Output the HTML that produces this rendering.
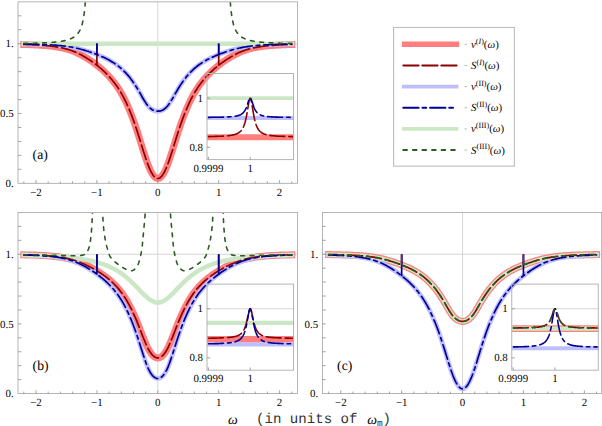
<!DOCTYPE html>
<html><head><meta charset="utf-8"><title>spectra</title>
<style>html,body{margin:0;padding:0;background:#fff;}body{width:602px;height:426px;overflow:hidden;font-family:"Liberation Serif",serif;}svg{display:block;}</style>
</head><body>
<svg width="602" height="426" viewBox="0 0 602 426" text-rendering="geometricPrecision">
<rect width="602" height="426" fill="#fff"/>
<path d="M157.80,1.85V183.30" stroke="#d6d6d6" stroke-width="1" fill="none"/>
<path d="M18.00,43.72H297.50" stroke="#d6d6d6" stroke-width="1" fill="none"/>
<clipPath id="cp0"><rect x="18.00" y="2.35" width="279.50" height="180.95"/></clipPath>
<g clip-path="url(#cp0)">
<path d="M23.8,44.5L24.8,44.5L25.8,44.5L26.8,44.6L27.8,44.6L28.8,44.6L29.8,44.7L30.8,44.7L31.8,44.7L32.9,44.8L33.9,44.8L34.9,44.9L35.9,44.9L36.9,45.0L37.9,45.0L38.9,45.1L39.9,45.2L40.9,45.2L41.9,45.3L42.9,45.4L43.9,45.4L44.9,45.5L45.9,45.6L46.9,45.7L47.9,45.8L48.9,45.9L49.9,46.0L50.9,46.1L51.9,46.2L52.9,46.3L53.9,46.5L54.9,46.6L55.9,46.8L56.9,46.9L57.9,47.1L58.9,47.3L59.9,47.5L61.0,47.6L62.0,47.9L63.0,48.1L64.0,48.3L65.0,48.6L66.0,48.8L67.0,49.1L68.0,49.4L69.0,49.7L70.0,50.0L71.0,50.4L72.0,50.7L73.0,51.1L74.0,51.5L75.0,51.9L76.0,52.3L77.0,52.8L78.0,53.3L79.0,53.8L80.0,54.3L81.0,54.8L82.0,55.3L83.0,55.9L84.0,56.5L85.0,57.1L86.0,57.7L87.0,58.3L88.1,59.0L89.1,59.6L90.1,60.3L91.1,61.0L92.1,61.7L93.1,62.4L94.1,63.1L95.1,63.9L96.1,64.7L97.1,65.4L98.1,66.2L99.1,67.1L100.1,67.9L101.1,68.7L102.1,69.6L103.1,70.5L104.1,71.4L105.1,72.4L106.1,73.4L107.1,74.4L108.1,75.4L109.1,76.5L110.1,77.6L111.1,78.7L112.1,79.9L113.1,81.2L114.1,82.4L115.1,83.8L116.2,85.2L117.2,86.6L118.2,88.1L119.2,89.7L120.2,91.3L121.2,93.0L122.2,94.8L123.2,96.6L124.2,98.5L125.2,100.5L126.2,102.6L127.2,104.8L128.2,107.0L129.2,109.4L130.2,111.8L131.2,114.3L132.2,116.9L133.2,119.6L134.2,122.4L135.2,125.3L136.2,128.3L137.2,131.3L138.2,134.4L139.2,137.6L140.2,140.8L141.2,144.1L142.2,147.3L143.2,150.6L144.3,153.7L145.3,156.9L146.3,159.9L147.3,162.7L148.3,165.4L149.3,167.9L150.3,170.2L151.3,172.2L152.3,173.9L153.3,175.4L154.3,176.7L155.3,177.6L156.3,178.2L157.3,178.5L158.3,178.5L159.3,178.2L160.3,177.6L161.3,176.7L162.3,175.4L163.3,173.9L164.3,172.2L165.3,170.2L166.3,167.9L167.3,165.4L168.3,162.7L169.3,159.9L170.3,156.9L171.3,153.7L172.4,150.6L173.4,147.3L174.4,144.1L175.4,140.8L176.4,137.6L177.4,134.4L178.4,131.3L179.4,128.3L180.4,125.3L181.4,122.4L182.4,119.6L183.4,116.9L184.4,114.3L185.4,111.8L186.4,109.4L187.4,107.0L188.4,104.8L189.4,102.6L190.4,100.5L191.4,98.5L192.4,96.6L193.4,94.8L194.4,93.0L195.4,91.3L196.4,89.7L197.4,88.1L198.4,86.6L199.4,85.2L200.5,83.8L201.5,82.4L202.5,81.2L203.5,79.9L204.5,78.7L205.5,77.6L206.5,76.5L207.5,75.4L208.5,74.4L209.5,73.4L210.5,72.4L211.5,71.4L212.5,70.5L213.5,69.6L214.5,68.7L215.5,67.9L216.5,67.1L217.5,66.2L218.5,65.4L219.5,64.7L220.5,63.9L221.5,63.1L222.5,62.4L223.5,61.7L224.5,61.0L225.5,60.3L226.5,59.6L227.5,59.0L228.6,58.3L229.6,57.7L230.6,57.1L231.6,56.5L232.6,55.9L233.6,55.3L234.6,54.8L235.6,54.3L236.6,53.8L237.6,53.3L238.6,52.8L239.6,52.3L240.6,51.9L241.6,51.5L242.6,51.1L243.6,50.7L244.6,50.4L245.6,50.0L246.6,49.7L247.6,49.4L248.6,49.1L249.6,48.8L250.6,48.6L251.6,48.3L252.6,48.1L253.6,47.9L254.6,47.6L255.7,47.5L256.7,47.3L257.7,47.1L258.7,46.9L259.7,46.8L260.7,46.6L261.7,46.5L262.7,46.3L263.7,46.2L264.7,46.1L265.7,46.0L266.7,45.9L267.7,45.8L268.7,45.7L269.7,45.6L270.7,45.5L271.7,45.4L272.7,45.4L273.7,45.3L274.7,45.2L275.7,45.2L276.7,45.1L277.7,45.0L278.7,45.0L279.7,44.9L280.7,44.9L281.7,44.8L282.7,44.8L283.8,44.7L284.8,44.7L285.8,44.7L286.8,44.6L287.8,44.6L288.8,44.6L289.8,44.5L290.8,44.5L291.8,44.5" fill="none" stroke="#ff7f7f" stroke-width="7.00" stroke-linecap="square" stroke-linejoin="round"/>
<path d="M23.8,44.1L24.8,44.1L25.8,44.1L26.8,44.1L27.8,44.2L28.8,44.2L29.8,44.2L30.8,44.2L31.8,44.2L32.9,44.3L33.9,44.3L34.9,44.3L35.9,44.3L36.9,44.4L37.9,44.4L38.9,44.4L39.9,44.4L40.9,44.5L41.9,44.5L42.9,44.5L43.9,44.6L44.9,44.6L45.9,44.7L46.9,44.7L47.9,44.8L48.9,44.8L49.9,44.9L50.9,44.9L51.9,45.0L52.9,45.0L53.9,45.1L54.9,45.2L55.9,45.2L56.9,45.3L57.9,45.4L58.9,45.5L59.9,45.6L61.0,45.7L62.0,45.8L63.0,45.9L64.0,46.0L65.0,46.1L66.0,46.3L67.0,46.4L68.0,46.6L69.0,46.7L70.0,46.9L71.0,47.0L72.0,47.2L73.0,47.4L74.0,47.6L75.0,47.8L76.0,48.0L77.0,48.3L78.0,48.5L79.0,48.7L80.0,49.0L81.0,49.3L82.0,49.5L83.0,49.8L84.0,50.1L85.0,50.4L86.0,50.7L87.0,51.0L88.1,51.3L89.1,51.7L90.1,52.0L91.1,52.4L92.1,52.7L93.1,53.1L94.1,53.4L95.1,53.8L96.1,54.2L97.1,54.6L98.1,55.0L99.1,55.4L100.1,55.8L101.1,56.3L102.1,56.7L103.1,57.1L104.1,57.6L105.1,58.1L106.1,58.6L107.1,59.1L108.1,59.6L109.1,60.1L110.1,60.7L111.1,61.3L112.1,61.9L113.1,62.5L114.1,63.1L115.1,63.8L116.2,64.5L117.2,65.2L118.2,66.0L119.2,66.8L120.2,67.6L121.2,68.5L122.2,69.4L123.2,70.3L124.2,71.3L125.2,72.3L126.2,73.4L127.2,74.5L128.2,75.6L129.2,76.8L130.2,78.1L131.2,79.4L132.2,80.7L133.2,82.2L134.2,83.6L135.2,85.1L136.2,86.7L137.2,88.3L138.2,90.0L139.2,91.7L140.2,93.4L141.2,95.2L142.2,97.0L143.2,98.8L144.3,100.5L145.3,102.1L146.3,103.7L147.3,105.1L148.3,106.3L149.3,107.4L150.3,108.3L151.3,109.0L152.3,109.7L153.3,110.2L154.3,110.6L155.3,110.9L156.3,111.1L157.3,111.2L158.3,111.2L159.3,111.1L160.3,110.9L161.3,110.6L162.3,110.2L163.3,109.7L164.3,109.0L165.3,108.3L166.3,107.4L167.3,106.3L168.3,105.1L169.3,103.7L170.3,102.1L171.3,100.5L172.4,98.8L173.4,97.0L174.4,95.2L175.4,93.4L176.4,91.7L177.4,90.0L178.4,88.3L179.4,86.7L180.4,85.1L181.4,83.6L182.4,82.2L183.4,80.7L184.4,79.4L185.4,78.1L186.4,76.8L187.4,75.6L188.4,74.5L189.4,73.4L190.4,72.3L191.4,71.3L192.4,70.3L193.4,69.4L194.4,68.5L195.4,67.6L196.4,66.8L197.4,66.0L198.4,65.2L199.4,64.5L200.5,63.8L201.5,63.1L202.5,62.5L203.5,61.9L204.5,61.3L205.5,60.7L206.5,60.1L207.5,59.6L208.5,59.1L209.5,58.6L210.5,58.1L211.5,57.6L212.5,57.1L213.5,56.7L214.5,56.3L215.5,55.8L216.5,55.4L217.5,55.0L218.5,54.6L219.5,54.2L220.5,53.8L221.5,53.4L222.5,53.1L223.5,52.7L224.5,52.4L225.5,52.0L226.5,51.7L227.5,51.3L228.6,51.0L229.6,50.7L230.6,50.4L231.6,50.1L232.6,49.8L233.6,49.5L234.6,49.3L235.6,49.0L236.6,48.7L237.6,48.5L238.6,48.3L239.6,48.0L240.6,47.8L241.6,47.6L242.6,47.4L243.6,47.2L244.6,47.0L245.6,46.9L246.6,46.7L247.6,46.6L248.6,46.4L249.6,46.3L250.6,46.1L251.6,46.0L252.6,45.9L253.6,45.8L254.6,45.7L255.7,45.6L256.7,45.5L257.7,45.4L258.7,45.3L259.7,45.2L260.7,45.2L261.7,45.1L262.7,45.0L263.7,45.0L264.7,44.9L265.7,44.9L266.7,44.8L267.7,44.8L268.7,44.7L269.7,44.7L270.7,44.6L271.7,44.6L272.7,44.5L273.7,44.5L274.7,44.5L275.7,44.4L276.7,44.4L277.7,44.4L278.7,44.4L279.7,44.3L280.7,44.3L281.7,44.3L282.7,44.3L283.8,44.2L284.8,44.2L285.8,44.2L286.8,44.2L287.8,44.2L288.8,44.1L289.8,44.1L290.8,44.1L291.8,44.1" fill="none" stroke="#bebeff" stroke-width="4.70" stroke-linecap="square" stroke-linejoin="round"/>
<path d="M23.8,43.7L24.8,43.7L25.8,43.7L26.8,43.7L27.8,43.7L28.8,43.7L29.8,43.7L30.8,43.7L31.8,43.7L32.9,43.7L33.9,43.7L34.9,43.7L35.9,43.7L36.9,43.7L37.9,43.7L38.9,43.7L39.9,43.7L40.9,43.7L41.9,43.7L42.9,43.7L43.9,43.7L44.9,43.7L45.9,43.7L46.9,43.7L47.9,43.7L48.9,43.7L49.9,43.7L50.9,43.7L51.9,43.7L52.9,43.7L53.9,43.7L54.9,43.7L55.9,43.7L56.9,43.7L57.9,43.7L58.9,43.7L59.9,43.7L61.0,43.7L62.0,43.7L63.0,43.7L64.0,43.7L65.0,43.7L66.0,43.7L67.0,43.7L68.0,43.7L69.0,43.7L70.0,43.7L71.0,43.7L72.0,43.7L73.0,43.7L74.0,43.7L75.0,43.7L76.0,43.7L77.0,43.7L78.0,43.7L79.0,43.7L80.0,43.7L81.0,43.7L82.0,43.7L83.0,43.7L84.0,43.7L85.0,43.7L86.0,43.7L87.0,43.7L88.1,43.7L89.1,43.7L90.1,43.7L91.1,43.7L92.1,43.7L93.1,43.7L94.1,43.7L95.1,43.7L96.1,43.7L97.1,43.7L98.1,43.7L99.1,43.7L100.1,43.7L101.1,43.7L102.1,43.7L103.1,43.7L104.1,43.7L105.1,43.7L106.1,43.7L107.1,43.7L108.1,43.7L109.1,43.7L110.1,43.7L111.1,43.7L112.1,43.7L113.1,43.7L114.1,43.7L115.1,43.7L116.2,43.7L117.2,43.7L118.2,43.7L119.2,43.7L120.2,43.7L121.2,43.7L122.2,43.7L123.2,43.7L124.2,43.7L125.2,43.7L126.2,43.7L127.2,43.7L128.2,43.7L129.2,43.7L130.2,43.7L131.2,43.7L132.2,43.7L133.2,43.7L134.2,43.7L135.2,43.7L136.2,43.7L137.2,43.7L138.2,43.7L139.2,43.7L140.2,43.7L141.2,43.7L142.2,43.7L143.2,43.7L144.3,43.7L145.3,43.7L146.3,43.7L147.3,43.7L148.3,43.7L149.3,43.7L150.3,43.7L151.3,43.7L152.3,43.7L153.3,43.7L154.3,43.7L155.3,43.7L156.3,43.7L157.3,43.7L158.3,43.7L159.3,43.7L160.3,43.7L161.3,43.7L162.3,43.7L163.3,43.7L164.3,43.7L165.3,43.7L166.3,43.7L167.3,43.7L168.3,43.7L169.3,43.7L170.3,43.7L171.3,43.7L172.4,43.7L173.4,43.7L174.4,43.7L175.4,43.7L176.4,43.7L177.4,43.7L178.4,43.7L179.4,43.7L180.4,43.7L181.4,43.7L182.4,43.7L183.4,43.7L184.4,43.7L185.4,43.7L186.4,43.7L187.4,43.7L188.4,43.7L189.4,43.7L190.4,43.7L191.4,43.7L192.4,43.7L193.4,43.7L194.4,43.7L195.4,43.7L196.4,43.7L197.4,43.7L198.4,43.7L199.4,43.7L200.5,43.7L201.5,43.7L202.5,43.7L203.5,43.7L204.5,43.7L205.5,43.7L206.5,43.7L207.5,43.7L208.5,43.7L209.5,43.7L210.5,43.7L211.5,43.7L212.5,43.7L213.5,43.7L214.5,43.7L215.5,43.7L216.5,43.7L217.5,43.7L218.5,43.7L219.5,43.7L220.5,43.7L221.5,43.7L222.5,43.7L223.5,43.7L224.5,43.7L225.5,43.7L226.5,43.7L227.5,43.7L228.6,43.7L229.6,43.7L230.6,43.7L231.6,43.7L232.6,43.7L233.6,43.7L234.6,43.7L235.6,43.7L236.6,43.7L237.6,43.7L238.6,43.7L239.6,43.7L240.6,43.7L241.6,43.7L242.6,43.7L243.6,43.7L244.6,43.7L245.6,43.7L246.6,43.7L247.6,43.7L248.6,43.7L249.6,43.7L250.6,43.7L251.6,43.7L252.6,43.7L253.6,43.7L254.6,43.7L255.7,43.7L256.7,43.7L257.7,43.7L258.7,43.7L259.7,43.7L260.7,43.7L261.7,43.7L262.7,43.7L263.7,43.7L264.7,43.7L265.7,43.7L266.7,43.7L267.7,43.7L268.7,43.7L269.7,43.7L270.7,43.7L271.7,43.7L272.7,43.7L273.7,43.7L274.7,43.7L275.7,43.7L276.7,43.7L277.7,43.7L278.7,43.7L279.7,43.7L280.7,43.7L281.7,43.7L282.7,43.7L283.8,43.7L284.8,43.7L285.8,43.7L286.8,43.7L287.8,43.7L288.8,43.7L289.8,43.7L290.8,43.7L291.8,43.7" fill="none" stroke="#cce7c6" stroke-width="4.50" stroke-linecap="square" stroke-linejoin="round"/>
<path d="M23.8,44.5L24.8,44.5L25.8,44.5L26.8,44.6L27.8,44.6L28.8,44.6L29.8,44.7L30.8,44.7L31.8,44.7L32.9,44.8L33.9,44.8L34.9,44.9L35.9,44.9L36.9,45.0L37.9,45.0L38.9,45.1L39.9,45.2L40.9,45.2L41.9,45.3L42.9,45.4L43.9,45.4L44.9,45.5L45.9,45.6L46.9,45.7L47.9,45.8L48.9,45.9L49.9,46.0L50.9,46.1L51.9,46.2L52.9,46.3L53.9,46.5L54.9,46.6L55.9,46.8L56.9,46.9L57.9,47.1L58.9,47.3L59.9,47.5L61.0,47.6L62.0,47.9L63.0,48.1L64.0,48.3L65.0,48.6L66.0,48.8L67.0,49.1L68.0,49.4L69.0,49.7L70.0,50.0L71.0,50.4L72.0,50.7L73.0,51.1L74.0,51.5L75.0,51.9L76.0,52.3L77.0,52.8L78.0,53.3L79.0,53.8L80.0,54.3L81.0,54.8L82.0,55.3L83.0,55.9L84.0,56.5L85.0,57.1L86.0,57.7L87.0,58.3L88.1,59.0L89.1,59.6L90.1,60.3L91.1,61.0L92.1,61.7L93.1,62.4L94.1,63.1L95.1,63.9L96.1,64.7L97.1,65.4L98.1,66.2L99.1,67.1L100.1,67.9L101.1,68.7L102.1,69.6L103.1,70.5L104.1,71.4L105.1,72.4L106.1,73.4L107.1,74.4L108.1,75.4L109.1,76.5L110.1,77.6L111.1,78.7L112.1,79.9L113.1,81.2L114.1,82.4L115.1,83.8L116.2,85.2L117.2,86.6L118.2,88.1L119.2,89.7L120.2,91.3L121.2,93.0L122.2,94.8L123.2,96.6L124.2,98.5L125.2,100.5L126.2,102.6L127.2,104.8L128.2,107.0L129.2,109.4L130.2,111.8L131.2,114.3L132.2,116.9L133.2,119.6L134.2,122.4L135.2,125.3L136.2,128.3L137.2,131.3L138.2,134.4L139.2,137.6L140.2,140.8L141.2,144.1L142.2,147.3L143.2,150.6L144.3,153.7L145.3,156.9L146.3,159.9L147.3,162.7L148.3,165.4L149.3,167.9L150.3,170.2L151.3,172.2L152.3,173.9L153.3,175.4L154.3,176.7L155.3,177.6L156.3,178.2L157.3,178.5L158.3,178.5L159.3,178.2L160.3,177.6L161.3,176.7L162.3,175.4L163.3,173.9L164.3,172.2L165.3,170.2L166.3,167.9L167.3,165.4L168.3,162.7L169.3,159.9L170.3,156.9L171.3,153.7L172.4,150.6L173.4,147.3L174.4,144.1L175.4,140.8L176.4,137.6L177.4,134.4L178.4,131.3L179.4,128.3L180.4,125.3L181.4,122.4L182.4,119.6L183.4,116.9L184.4,114.3L185.4,111.8L186.4,109.4L187.4,107.0L188.4,104.8L189.4,102.6L190.4,100.5L191.4,98.5L192.4,96.6L193.4,94.8L194.4,93.0L195.4,91.3L196.4,89.7L197.4,88.1L198.4,86.6L199.4,85.2L200.5,83.8L201.5,82.4L202.5,81.2L203.5,79.9L204.5,78.7L205.5,77.6L206.5,76.5L207.5,75.4L208.5,74.4L209.5,73.4L210.5,72.4L211.5,71.4L212.5,70.5L213.5,69.6L214.5,68.7L215.5,67.9L216.5,67.1L217.5,66.2L218.5,65.4L219.5,64.7L220.5,63.9L221.5,63.1L222.5,62.4L223.5,61.7L224.5,61.0L225.5,60.3L226.5,59.6L227.5,59.0L228.6,58.3L229.6,57.7L230.6,57.1L231.6,56.5L232.6,55.9L233.6,55.3L234.6,54.8L235.6,54.3L236.6,53.8L237.6,53.3L238.6,52.8L239.6,52.3L240.6,51.9L241.6,51.5L242.6,51.1L243.6,50.7L244.6,50.4L245.6,50.0L246.6,49.7L247.6,49.4L248.6,49.1L249.6,48.8L250.6,48.6L251.6,48.3L252.6,48.1L253.6,47.9L254.6,47.6L255.7,47.5L256.7,47.3L257.7,47.1L258.7,46.9L259.7,46.8L260.7,46.6L261.7,46.5L262.7,46.3L263.7,46.2L264.7,46.1L265.7,46.0L266.7,45.9L267.7,45.8L268.7,45.7L269.7,45.6L270.7,45.5L271.7,45.4L272.7,45.4L273.7,45.3L274.7,45.2L275.7,45.2L276.7,45.1L277.7,45.0L278.7,45.0L279.7,44.9L280.7,44.9L281.7,44.8L282.7,44.8L283.8,44.7L284.8,44.7L285.8,44.7L286.8,44.6L287.8,44.6L288.8,44.6L289.8,44.5L290.8,44.5L291.8,44.5" fill="none" stroke="#8b0000" stroke-width="1.70" stroke-dasharray="15 4" stroke-dashoffset="0.0" stroke-linecap="round" stroke-linejoin="round"/>
<path d="M96.90,65.79V43.62" fill="none" stroke="#8b0000" stroke-width="1.70" stroke-linecap="butt"/>
<path d="M218.70,65.79V43.62" fill="none" stroke="#8b0000" stroke-width="1.70" stroke-linecap="butt"/>
<path d="M23.8,44.1L24.8,44.1L25.8,44.1L26.8,44.1L27.8,44.2L28.8,44.2L29.8,44.2L30.8,44.2L31.8,44.2L32.9,44.3L33.9,44.3L34.9,44.3L35.9,44.3L36.9,44.4L37.9,44.4L38.9,44.4L39.9,44.4L40.9,44.5L41.9,44.5L42.9,44.5L43.9,44.6L44.9,44.6L45.9,44.7L46.9,44.7L47.9,44.8L48.9,44.8L49.9,44.9L50.9,44.9L51.9,45.0L52.9,45.0L53.9,45.1L54.9,45.2L55.9,45.2L56.9,45.3L57.9,45.4L58.9,45.5L59.9,45.6L61.0,45.7L62.0,45.8L63.0,45.9L64.0,46.0L65.0,46.1L66.0,46.3L67.0,46.4L68.0,46.6L69.0,46.7L70.0,46.9L71.0,47.0L72.0,47.2L73.0,47.4L74.0,47.6L75.0,47.8L76.0,48.0L77.0,48.3L78.0,48.5L79.0,48.7L80.0,49.0L81.0,49.3L82.0,49.5L83.0,49.8L84.0,50.1L85.0,50.4L86.0,50.7L87.0,51.0L88.1,51.3L89.1,51.7L90.1,52.0L91.1,52.4L92.1,52.7L93.1,53.1L94.1,53.4L95.1,53.8L96.1,54.2L97.1,54.6L98.1,55.0L99.1,55.4L100.1,55.8L101.1,56.3L102.1,56.7L103.1,57.1L104.1,57.6L105.1,58.1L106.1,58.6L107.1,59.1L108.1,59.6L109.1,60.1L110.1,60.7L111.1,61.3L112.1,61.9L113.1,62.5L114.1,63.1L115.1,63.8L116.2,64.5L117.2,65.2L118.2,66.0L119.2,66.8L120.2,67.6L121.2,68.5L122.2,69.4L123.2,70.3L124.2,71.3L125.2,72.3L126.2,73.4L127.2,74.5L128.2,75.6L129.2,76.8L130.2,78.1L131.2,79.4L132.2,80.7L133.2,82.2L134.2,83.6L135.2,85.1L136.2,86.7L137.2,88.3L138.2,90.0L139.2,91.7L140.2,93.4L141.2,95.2L142.2,97.0L143.2,98.8L144.3,100.5L145.3,102.1L146.3,103.7L147.3,105.1L148.3,106.3L149.3,107.4L150.3,108.3L151.3,109.0L152.3,109.7L153.3,110.2L154.3,110.6L155.3,110.9L156.3,111.1L157.3,111.2L158.3,111.2L159.3,111.1L160.3,110.9L161.3,110.6L162.3,110.2L163.3,109.7L164.3,109.0L165.3,108.3L166.3,107.4L167.3,106.3L168.3,105.1L169.3,103.7L170.3,102.1L171.3,100.5L172.4,98.8L173.4,97.0L174.4,95.2L175.4,93.4L176.4,91.7L177.4,90.0L178.4,88.3L179.4,86.7L180.4,85.1L181.4,83.6L182.4,82.2L183.4,80.7L184.4,79.4L185.4,78.1L186.4,76.8L187.4,75.6L188.4,74.5L189.4,73.4L190.4,72.3L191.4,71.3L192.4,70.3L193.4,69.4L194.4,68.5L195.4,67.6L196.4,66.8L197.4,66.0L198.4,65.2L199.4,64.5L200.5,63.8L201.5,63.1L202.5,62.5L203.5,61.9L204.5,61.3L205.5,60.7L206.5,60.1L207.5,59.6L208.5,59.1L209.5,58.6L210.5,58.1L211.5,57.6L212.5,57.1L213.5,56.7L214.5,56.3L215.5,55.8L216.5,55.4L217.5,55.0L218.5,54.6L219.5,54.2L220.5,53.8L221.5,53.4L222.5,53.1L223.5,52.7L224.5,52.4L225.5,52.0L226.5,51.7L227.5,51.3L228.6,51.0L229.6,50.7L230.6,50.4L231.6,50.1L232.6,49.8L233.6,49.5L234.6,49.3L235.6,49.0L236.6,48.7L237.6,48.5L238.6,48.3L239.6,48.0L240.6,47.8L241.6,47.6L242.6,47.4L243.6,47.2L244.6,47.0L245.6,46.9L246.6,46.7L247.6,46.6L248.6,46.4L249.6,46.3L250.6,46.1L251.6,46.0L252.6,45.9L253.6,45.8L254.6,45.7L255.7,45.6L256.7,45.5L257.7,45.4L258.7,45.3L259.7,45.2L260.7,45.2L261.7,45.1L262.7,45.0L263.7,45.0L264.7,44.9L265.7,44.9L266.7,44.8L267.7,44.8L268.7,44.7L269.7,44.7L270.7,44.6L271.7,44.6L272.7,44.5L273.7,44.5L274.7,44.5L275.7,44.4L276.7,44.4L277.7,44.4L278.7,44.4L279.7,44.3L280.7,44.3L281.7,44.3L282.7,44.3L283.8,44.2L284.8,44.2L285.8,44.2L286.8,44.2L287.8,44.2L288.8,44.1L289.8,44.1L290.8,44.1L291.8,44.1" fill="none" stroke="#000094" stroke-width="1.70" stroke-dasharray="15 4 3.6 4" stroke-dashoffset="0.0" stroke-linecap="round" stroke-linejoin="round"/>
<path d="M96.90,55.03V43.62" fill="none" stroke="#000094" stroke-width="1.70" stroke-linecap="butt"/>
<path d="M218.70,55.03V43.62" fill="none" stroke="#000094" stroke-width="1.70" stroke-linecap="butt"/>
<path d="M23.8,43.4L24.1,43.4L24.5,43.4L24.8,43.4L25.1,43.4L25.4,43.4L25.7,43.4L26.1,43.4L26.4,43.4L26.7,43.4L27.0,43.4L27.4,43.3L27.7,43.3L28.0,43.3L28.3,43.3L28.6,43.3L29.0,43.3L29.3,43.3L29.6,43.3L29.9,43.3L30.2,43.3L30.6,43.3L30.9,43.3L31.2,43.3L31.5,43.3L31.9,43.3L32.2,43.2L32.5,43.2L32.8,43.2L33.1,43.2L33.5,43.2L33.8,43.2L34.1,43.2L34.4,43.2L34.7,43.2L35.1,43.2L35.4,43.2L35.7,43.2L36.0,43.1L36.4,43.1L36.7,43.1L37.0,43.1L37.3,43.1L37.6,43.1L38.0,43.1L38.3,43.1L38.6,43.1L38.9,43.1L39.2,43.0L39.6,43.0L39.9,43.0L40.2,43.0L40.5,43.0L40.9,43.0L41.2,43.0L41.5,43.0L41.8,43.0L42.1,42.9L42.5,42.9L42.8,42.9L43.1,42.9L43.4,42.9L43.7,42.9L44.1,42.9L44.4,42.8L44.7,42.8L45.0,42.8L45.3,42.8L45.7,42.8L46.0,42.8L46.3,42.7L46.6,42.7L47.0,42.7L47.3,42.7L47.6,42.7L47.9,42.6L48.2,42.6L48.6,42.6L48.9,42.6L49.2,42.6L49.5,42.5L49.8,42.5L50.2,42.5L50.5,42.5L50.8,42.5L51.1,42.4L51.5,42.4L51.8,42.4L52.1,42.4L52.4,42.3L52.7,42.3L53.1,42.3L53.4,42.2L53.7,42.2L54.0,42.2L54.3,42.2L54.7,42.1L55.0,42.1L55.3,42.1L55.6,42.0L56.0,42.0L56.3,42.0L56.6,41.9L56.9,41.9L57.2,41.9L57.6,41.8L57.9,41.8L58.2,41.7L58.5,41.7L58.8,41.6L59.2,41.6L59.5,41.6L59.8,41.5L60.1,41.5L60.5,41.4L60.8,41.4L61.1,41.3L61.4,41.3L61.7,41.2L62.1,41.2L62.4,41.1L62.7,41.0L63.0,41.0L63.3,40.9L63.7,40.9L64.0,40.8L64.3,40.7L64.6,40.6L65.0,40.6L65.3,40.5L65.6,40.4L65.9,40.3L66.2,40.3L66.6,40.2L66.9,40.1L67.2,40.0L67.5,39.9L67.8,39.8L68.2,39.7L68.5,39.6L68.8,39.5L69.1,39.4L69.4,39.3L69.8,39.1L70.1,39.0L70.4,38.9L70.7,38.8L71.1,38.6L71.4,38.5L71.7,38.3L72.0,38.2L72.3,38.0L72.7,37.8L73.0,37.6L73.3,37.5L73.6,37.3L73.9,37.1L74.3,36.8L74.6,36.6L74.9,36.4L75.2,36.1L75.6,35.9L75.9,35.6L76.2,35.3L76.5,35.0L76.8,34.7L77.2,34.3L77.5,33.9L77.8,33.5L78.1,33.1L78.4,32.7L78.8,32.2L79.1,31.7L79.4,31.2L79.7,30.6L80.1,30.0L80.4,29.3L80.7,28.5L81.0,27.7L81.3,26.9L81.7,25.9L82.0,24.9L82.3,23.7L82.6,22.4L82.9,21.0L83.3,19.4L83.6,17.6L83.9,15.5L84.2,13.2L84.6,10.4L84.9,7.3L85.2,3.5L85.5,-1.0L85.8,-6.6L86.2,-13.5L86.5,-22.5L86.8,-34.4L87.1,-40.0L87.4,-40.0L87.8,-40.0" fill="none" stroke="#2c5c23" stroke-width="1.60" stroke-dasharray="3.7 5.8" stroke-dashoffset="0.0" stroke-linecap="round" stroke-linejoin="round"/>
<path d="M291.8,43.4L291.5,43.4L291.1,43.4L290.8,43.4L290.5,43.4L290.2,43.4L289.9,43.4L289.5,43.4L289.2,43.4L288.9,43.4L288.6,43.4L288.2,43.3L287.9,43.3L287.6,43.3L287.3,43.3L287.0,43.3L286.6,43.3L286.3,43.3L286.0,43.3L285.7,43.3L285.4,43.3L285.0,43.3L284.7,43.3L284.4,43.3L284.1,43.3L283.7,43.3L283.4,43.2L283.1,43.2L282.8,43.2L282.5,43.2L282.1,43.2L281.8,43.2L281.5,43.2L281.2,43.2L280.9,43.2L280.5,43.2L280.2,43.2L279.9,43.2L279.6,43.1L279.2,43.1L278.9,43.1L278.6,43.1L278.3,43.1L278.0,43.1L277.6,43.1L277.3,43.1L277.0,43.1L276.7,43.1L276.4,43.0L276.0,43.0L275.7,43.0L275.4,43.0L275.1,43.0L274.7,43.0L274.4,43.0L274.1,43.0L273.8,43.0L273.5,42.9L273.1,42.9L272.8,42.9L272.5,42.9L272.2,42.9L271.9,42.9L271.5,42.9L271.2,42.8L270.9,42.8L270.6,42.8L270.3,42.8L269.9,42.8L269.6,42.8L269.3,42.7L269.0,42.7L268.6,42.7L268.3,42.7L268.0,42.7L267.7,42.6L267.4,42.6L267.0,42.6L266.7,42.6L266.4,42.6L266.1,42.5L265.8,42.5L265.4,42.5L265.1,42.5L264.8,42.5L264.5,42.4L264.1,42.4L263.8,42.4L263.5,42.4L263.2,42.3L262.9,42.3L262.5,42.3L262.2,42.2L261.9,42.2L261.6,42.2L261.3,42.2L260.9,42.1L260.6,42.1L260.3,42.1L260.0,42.0L259.6,42.0L259.3,42.0L259.0,41.9L258.7,41.9L258.4,41.9L258.0,41.8L257.7,41.8L257.4,41.7L257.1,41.7L256.8,41.6L256.4,41.6L256.1,41.6L255.8,41.5L255.5,41.5L255.1,41.4L254.8,41.4L254.5,41.3L254.2,41.3L253.9,41.2L253.5,41.2L253.2,41.1L252.9,41.0L252.6,41.0L252.3,40.9L251.9,40.9L251.6,40.8L251.3,40.7L251.0,40.6L250.6,40.6L250.3,40.5L250.0,40.4L249.7,40.3L249.4,40.3L249.0,40.2L248.7,40.1L248.4,40.0L248.1,39.9L247.8,39.8L247.4,39.7L247.1,39.6L246.8,39.5L246.5,39.4L246.2,39.3L245.8,39.1L245.5,39.0L245.2,38.9L244.9,38.8L244.5,38.6L244.2,38.5L243.9,38.3L243.6,38.2L243.3,38.0L242.9,37.8L242.6,37.6L242.3,37.5L242.0,37.3L241.7,37.1L241.3,36.8L241.0,36.6L240.7,36.4L240.4,36.1L240.0,35.9L239.7,35.6L239.4,35.3L239.1,35.0L238.8,34.7L238.4,34.3L238.1,33.9L237.8,33.5L237.5,33.1L237.2,32.7L236.8,32.2L236.5,31.7L236.2,31.2L235.9,30.6L235.5,30.0L235.2,29.3L234.9,28.5L234.6,27.7L234.3,26.9L233.9,25.9L233.6,24.9L233.3,23.7L233.0,22.4L232.7,21.0L232.3,19.4L232.0,17.6L231.7,15.5L231.4,13.2L231.0,10.4L230.7,7.3L230.4,3.5L230.1,-1.0L229.8,-6.6L229.4,-13.5L229.1,-22.5L228.8,-34.4L228.5,-40.0L228.2,-40.0L227.8,-40.0" fill="none" stroke="#2c5c23" stroke-width="1.60" stroke-dasharray="3.7 5.8" stroke-dashoffset="0.0" stroke-linecap="round" stroke-linejoin="round"/>
</g>
<clipPath id="ci1"><rect x="206.50" y="73.50" width="87.90" height="86.10"/></clipPath>
<g clip-path="url(#ci1)">
<path d="M207.00,137.18H294.30" stroke="#ff7f7f" stroke-width="5.90" fill="none"/>
<path d="M207.00,118.04H294.30" stroke="#bebeff" stroke-width="3.90" fill="none"/>
<path d="M207.00,98.15H294.30" stroke="#cce7c6" stroke-width="3.90" fill="none"/>
<path d="M208.6,136.6L209.1,136.6L209.6,136.6L210.1,136.6L210.6,136.5L211.1,136.5L211.6,136.5L212.1,136.5L212.6,136.5L213.1,136.5L213.6,136.5L214.1,136.5L214.6,136.5L215.1,136.4L215.6,136.4L216.1,136.4L216.6,136.4L217.1,136.4L217.6,136.4L218.1,136.3L218.6,136.3L219.1,136.3L219.6,136.3L220.1,136.3L220.6,136.2L221.1,136.2L221.6,136.2L222.1,136.2L222.6,136.1L223.1,136.1L223.6,136.1L224.1,136.0L224.6,136.0L225.1,136.0L225.6,135.9L226.1,135.9L226.6,135.9L227.1,135.8L227.6,135.8L228.1,135.7L228.6,135.7L229.1,135.6L229.6,135.5L230.1,135.5L230.6,135.4L231.1,135.3L231.6,135.2L232.1,135.1L232.6,135.0L233.1,134.9L233.6,134.8L234.1,134.7L234.6,134.5L235.1,134.4L235.6,134.2L236.1,134.0L236.6,133.9L237.1,133.6L237.6,133.4L238.1,133.1L238.6,132.8L239.1,132.5L239.6,132.1L240.1,131.7L240.6,131.2L241.1,130.7L241.6,130.0L242.1,129.3L242.6,128.5L243.1,127.6L243.6,126.5L244.1,125.3L244.6,123.8L245.1,122.2L245.6,120.2L246.1,118.0L246.6,115.5L247.1,112.7L247.6,109.7L248.1,106.5L248.6,103.5L249.1,100.9L249.6,99.0L250.1,98.2L250.6,98.5L251.1,100.0L251.6,102.4L252.1,105.3L252.6,108.4L253.1,111.5L253.6,114.4L254.1,117.1L254.6,119.4L255.1,121.4L255.6,123.2L256.1,124.7L256.6,126.0L257.1,127.2L257.6,128.2L258.1,129.0L258.6,129.8L259.1,130.4L259.6,131.0L260.1,131.5L260.6,131.9L261.1,132.3L261.6,132.7L262.1,133.0L262.6,133.3L263.1,133.5L263.6,133.8L264.1,134.0L264.6,134.2L265.1,134.3L265.6,134.5L266.1,134.6L266.6,134.8L267.1,134.9L267.6,135.0L268.1,135.1L268.6,135.2L269.1,135.3L269.6,135.4L270.1,135.4L270.6,135.5L271.1,135.6L271.6,135.6L272.1,135.7L272.6,135.7L273.1,135.8L273.6,135.8L274.1,135.9L274.6,135.9L275.1,136.0L275.6,136.0L276.1,136.0L276.6,136.1L277.1,136.1L277.6,136.1L278.1,136.2L278.6,136.2L279.1,136.2L279.6,136.2L280.1,136.3L280.6,136.3L281.1,136.3L281.6,136.3L282.1,136.3L282.6,136.4L283.1,136.4L283.6,136.4L284.1,136.4L284.6,136.4L285.1,136.4L285.6,136.4L286.1,136.5L286.6,136.5L287.1,136.5L287.6,136.5L288.1,136.5L288.6,136.5L289.1,136.5L289.6,136.5L290.1,136.6L290.6,136.6L291.1,136.6L291.6,136.6L292.1,136.6L292.6,136.6L293.1,136.6" fill="none" stroke="#8b0000" stroke-width="1.60" stroke-dasharray="15 4" stroke-dashoffset="0.0" stroke-linecap="round" stroke-linejoin="round"/>
<path d="M208.6,117.4L209.1,117.4L209.6,117.4L210.1,117.4L210.6,117.3L211.1,117.3L211.6,117.3L212.1,117.3L212.6,117.3L213.1,117.3L213.6,117.3L214.1,117.3L214.6,117.3L215.1,117.3L215.6,117.3L216.1,117.3L216.6,117.3L217.1,117.3L217.6,117.3L218.1,117.2L218.6,117.2L219.1,117.2L219.6,117.2L220.1,117.2L220.6,117.2L221.1,117.2L221.6,117.2L222.1,117.2L222.6,117.1L223.1,117.1L223.6,117.1L224.1,117.1L224.6,117.1L225.1,117.1L225.6,117.0L226.1,117.0L226.6,117.0L227.1,117.0L227.6,117.0L228.1,116.9L228.6,116.9L229.1,116.9L229.6,116.8L230.1,116.8L230.6,116.8L231.1,116.7L231.6,116.7L232.1,116.6L232.6,116.6L233.1,116.5L233.6,116.5L234.1,116.4L234.6,116.3L235.1,116.3L235.6,116.2L236.1,116.1L236.6,116.0L237.1,115.9L237.6,115.8L238.1,115.6L238.6,115.5L239.1,115.3L239.6,115.1L240.1,114.9L240.6,114.7L241.1,114.4L241.6,114.1L242.1,113.7L242.6,113.3L243.1,112.9L243.6,112.3L244.1,111.7L244.6,111.0L245.1,110.2L245.6,109.2L246.1,108.1L246.6,106.8L247.1,105.4L247.6,103.9L248.1,102.3L248.6,100.8L249.1,99.5L249.6,98.6L250.1,98.2L250.6,98.3L251.1,99.1L251.6,100.3L252.1,101.7L252.6,103.3L253.1,104.8L253.6,106.3L254.1,107.6L254.6,108.8L255.1,109.8L255.6,110.7L256.1,111.4L256.6,112.1L257.1,112.7L257.6,113.2L258.1,113.6L258.6,114.0L259.1,114.3L259.6,114.6L260.1,114.8L260.6,115.0L261.1,115.2L261.6,115.4L262.1,115.6L262.6,115.7L263.1,115.8L263.6,116.0L264.1,116.1L264.6,116.2L265.1,116.2L265.6,116.3L266.1,116.4L266.6,116.5L267.1,116.5L267.6,116.6L268.1,116.6L268.6,116.7L269.1,116.7L269.6,116.8L270.1,116.8L270.6,116.8L271.1,116.9L271.6,116.9L272.1,116.9L272.6,116.9L273.1,117.0L273.6,117.0L274.1,117.0L274.6,117.0L275.1,117.1L275.6,117.1L276.1,117.1L276.6,117.1L277.1,117.1L277.6,117.1L278.1,117.2L278.6,117.2L279.1,117.2L279.6,117.2L280.1,117.2L280.6,117.2L281.1,117.2L281.6,117.2L282.1,117.2L282.6,117.3L283.1,117.3L283.6,117.3L284.1,117.3L284.6,117.3L285.1,117.3L285.6,117.3L286.1,117.3L286.6,117.3L287.1,117.3L287.6,117.3L288.1,117.3L288.6,117.3L289.1,117.3L289.6,117.3L290.1,117.4L290.6,117.4L291.1,117.4L291.6,117.4L292.1,117.4L292.6,117.4L293.1,117.4" fill="none" stroke="#000094" stroke-width="1.60" stroke-dasharray="15 4 3.6 4" stroke-dashoffset="0.0" stroke-linecap="round" stroke-linejoin="round"/>
</g>
<rect x="207.00" y="73.50" width="86.50" height="86.10" fill="none" stroke="#b4b4b4" stroke-width="1"/>
<path d="M207.00,98.15h3.2M207.00,147.25h3.2M208.40,159.60v-2.8M250.20,159.60v-2.8" stroke="#8f8f8f" stroke-width="0.8" fill="none"/>
<text x="203.0" y="101.7" font-family="'Liberation Serif', serif" font-size="10.90" text-anchor="end"  >1</text>
<text x="203.0" y="150.8" font-family="'Liberation Serif', serif" font-size="10.90" text-anchor="end"  >0.8</text>
<text x="208.4" y="171.6" font-family="'Liberation Serif', serif" font-size="10.90" text-anchor="middle"  >0.9999</text>
<text x="250.2" y="171.6" font-family="'Liberation Serif', serif" font-size="10.90" text-anchor="middle"  >1</text>
<rect x="18.00" y="1.85" width="279.50" height="181.45" fill="none" stroke="#a2a2a2" stroke-width="0.8"/>
<path d="M18.00,169.34h3.3M18.00,155.38h3.3M18.00,141.43h3.3M18.00,127.47h3.3M18.00,113.51h3.3M18.00,99.55h3.3M18.00,85.60h3.3M18.00,71.64h3.3M18.00,57.68h3.3M18.00,43.72h3.3M18.00,29.77h3.3M18.00,15.81h3.3M23.82,183.30v-2.0M36.00,183.30v-3.2M48.18,183.30v-2.0M60.36,183.30v-2.0M72.54,183.30v-2.0M84.72,183.30v-2.0M96.90,183.30v-3.2M109.08,183.30v-2.0M121.26,183.30v-2.0M133.44,183.30v-2.0M145.62,183.30v-2.0M157.80,183.30v-3.2M169.98,183.30v-2.0M182.16,183.30v-2.0M194.34,183.30v-2.0M206.52,183.30v-2.0M218.70,183.30v-3.2M230.88,183.30v-2.0M243.06,183.30v-2.0M255.24,183.30v-2.0M267.42,183.30v-2.0M279.60,183.30v-3.2M291.78,183.30v-2.0" stroke="#8f8f8f" stroke-width="0.8" fill="none"/>
<text x="13.7" y="47.3" font-family="'Liberation Serif', serif" font-size="10.90" text-anchor="end"  >1.</text>
<text x="13.7" y="117.1" font-family="'Liberation Serif', serif" font-size="10.90" text-anchor="end"  >0.5</text>
<text x="13.7" y="186.9" font-family="'Liberation Serif', serif" font-size="10.90" text-anchor="end"  >0.</text>
<text x="36.0" y="195.5" font-family="'Liberation Serif', serif" font-size="10.90" text-anchor="middle"  >−2</text>
<text x="96.9" y="195.5" font-family="'Liberation Serif', serif" font-size="10.90" text-anchor="middle"  >−1</text>
<text x="157.8" y="195.5" font-family="'Liberation Serif', serif" font-size="10.90" text-anchor="middle"  >0</text>
<text x="218.7" y="195.5" font-family="'Liberation Serif', serif" font-size="10.90" text-anchor="middle"  >1</text>
<text x="279.6" y="195.5" font-family="'Liberation Serif', serif" font-size="10.90" text-anchor="middle"  >2</text>
<text x="32.6" y="159.4" font-family="'Liberation Serif', serif" font-size="13.70" text-anchor="start"  >(a)</text>
<path d="M157.80,212.45V393.55" stroke="#d6d6d6" stroke-width="1" fill="none"/>
<path d="M18.00,254.24H297.50" stroke="#d6d6d6" stroke-width="1" fill="none"/>
<clipPath id="cp2"><rect x="18.00" y="212.95" width="279.50" height="180.60"/></clipPath>
<g clip-path="url(#cp2)">
<path d="M23.8,254.8L24.8,254.8L25.8,254.9L26.8,254.9L27.8,254.9L28.8,254.9L29.8,255.0L30.8,255.0L31.8,255.0L32.9,255.1L33.9,255.1L34.9,255.1L35.9,255.2L36.9,255.2L37.9,255.2L38.9,255.3L39.9,255.3L40.9,255.4L41.9,255.4L42.9,255.5L43.9,255.6L44.9,255.6L45.9,255.7L46.9,255.8L47.9,255.8L48.9,255.9L49.9,256.0L50.9,256.1L51.9,256.2L52.9,256.3L53.9,256.4L54.9,256.5L55.9,256.6L56.9,256.7L57.9,256.8L58.9,257.0L59.9,257.1L61.0,257.3L62.0,257.4L63.0,257.6L64.0,257.8L65.0,258.0L66.0,258.2L67.0,258.4L68.0,258.6L69.0,258.8L70.0,259.1L71.0,259.4L72.0,259.6L73.0,259.9L74.0,260.2L75.0,260.5L76.0,260.9L77.0,261.2L78.0,261.6L79.0,262.0L80.0,262.3L81.0,262.7L82.0,263.2L83.0,263.6L84.0,264.0L85.0,264.5L86.0,265.0L87.0,265.5L88.1,266.0L89.1,266.5L90.1,267.0L91.1,267.5L92.1,268.1L93.1,268.6L94.1,269.2L95.1,269.7L96.1,270.3L97.1,270.9L98.1,271.6L99.1,272.2L100.1,272.8L101.1,273.5L102.1,274.2L103.1,274.8L104.1,275.6L105.1,276.3L106.1,277.0L107.1,277.8L108.1,278.6L109.1,279.4L110.1,280.3L111.1,281.2L112.1,282.1L113.1,283.0L114.1,284.0L115.1,285.1L116.2,286.1L117.2,287.2L118.2,288.4L119.2,289.6L120.2,290.9L121.2,292.2L122.2,293.5L123.2,295.0L124.2,296.5L125.2,298.0L126.2,299.6L127.2,301.3L128.2,303.1L129.2,304.9L130.2,306.8L131.2,308.7L132.2,310.8L133.2,312.9L134.2,315.1L135.2,317.4L136.2,319.7L137.2,322.1L138.2,324.6L139.2,327.1L140.2,329.7L141.2,332.3L142.2,334.9L143.2,337.5L144.3,340.0L145.3,342.5L146.3,344.8L147.3,347.0L148.3,349.0L149.3,350.7L150.3,352.3L151.3,353.7L152.3,354.9L153.3,355.9L154.3,356.7L155.3,357.3L156.3,357.7L157.3,357.9L158.3,357.9L159.3,357.7L160.3,357.3L161.3,356.7L162.3,355.9L163.3,354.9L164.3,353.7L165.3,352.3L166.3,350.7L167.3,349.0L168.3,347.0L169.3,344.8L170.3,342.5L171.3,340.0L172.4,337.5L173.4,334.9L174.4,332.3L175.4,329.7L176.4,327.1L177.4,324.6L178.4,322.1L179.4,319.7L180.4,317.4L181.4,315.1L182.4,312.9L183.4,310.8L184.4,308.7L185.4,306.8L186.4,304.9L187.4,303.1L188.4,301.3L189.4,299.6L190.4,298.0L191.4,296.5L192.4,295.0L193.4,293.5L194.4,292.2L195.4,290.9L196.4,289.6L197.4,288.4L198.4,287.2L199.4,286.1L200.5,285.1L201.5,284.0L202.5,283.0L203.5,282.1L204.5,281.2L205.5,280.3L206.5,279.4L207.5,278.6L208.5,277.8L209.5,277.0L210.5,276.3L211.5,275.6L212.5,274.8L213.5,274.2L214.5,273.5L215.5,272.8L216.5,272.2L217.5,271.6L218.5,270.9L219.5,270.3L220.5,269.7L221.5,269.2L222.5,268.6L223.5,268.1L224.5,267.5L225.5,267.0L226.5,266.5L227.5,266.0L228.6,265.5L229.6,265.0L230.6,264.5L231.6,264.0L232.6,263.6L233.6,263.2L234.6,262.7L235.6,262.3L236.6,262.0L237.6,261.6L238.6,261.2L239.6,260.9L240.6,260.5L241.6,260.2L242.6,259.9L243.6,259.6L244.6,259.4L245.6,259.1L246.6,258.8L247.6,258.6L248.6,258.4L249.6,258.2L250.6,258.0L251.6,257.8L252.6,257.6L253.6,257.4L254.6,257.3L255.7,257.1L256.7,257.0L257.7,256.8L258.7,256.7L259.7,256.6L260.7,256.5L261.7,256.4L262.7,256.3L263.7,256.2L264.7,256.1L265.7,256.0L266.7,255.9L267.7,255.8L268.7,255.8L269.7,255.7L270.7,255.6L271.7,255.6L272.7,255.5L273.7,255.4L274.7,255.4L275.7,255.3L276.7,255.3L277.7,255.2L278.7,255.2L279.7,255.2L280.7,255.1L281.7,255.1L282.7,255.1L283.8,255.0L284.8,255.0L285.8,255.0L286.8,254.9L287.8,254.9L288.8,254.9L289.8,254.9L290.8,254.8L291.8,254.8" fill="none" stroke="#ff7f7f" stroke-width="7.00" stroke-linecap="square" stroke-linejoin="round"/>
<path d="M23.8,254.9L24.8,255.0L25.8,255.0L26.8,255.0L27.8,255.0L28.8,255.1L29.8,255.1L30.8,255.1L31.8,255.2L32.9,255.2L33.9,255.3L34.9,255.3L35.9,255.4L36.9,255.4L37.9,255.4L38.9,255.5L39.9,255.6L40.9,255.6L41.9,255.7L42.9,255.7L43.9,255.8L44.9,255.9L45.9,256.0L46.9,256.1L47.9,256.1L48.9,256.2L49.9,256.3L50.9,256.4L51.9,256.5L52.9,256.7L53.9,256.8L54.9,256.9L55.9,257.0L56.9,257.2L57.9,257.3L58.9,257.5L59.9,257.7L61.0,257.9L62.0,258.1L63.0,258.3L64.0,258.5L65.0,258.7L66.0,258.9L67.0,259.2L68.0,259.5L69.0,259.8L70.0,260.1L71.0,260.4L72.0,260.7L73.0,261.0L74.0,261.4L75.0,261.8L76.0,262.2L77.0,262.6L78.0,263.0L79.0,263.5L80.0,264.0L81.0,264.4L82.0,264.9L83.0,265.5L84.0,266.0L85.0,266.5L86.0,267.1L87.0,267.7L88.1,268.3L89.1,268.9L90.1,269.5L91.1,270.2L92.1,270.8L93.1,271.5L94.1,272.1L95.1,272.8L96.1,273.5L97.1,274.3L98.1,275.0L99.1,275.8L100.1,276.5L101.1,277.3L102.1,278.1L103.1,278.9L104.1,279.8L105.1,280.7L106.1,281.6L107.1,282.5L108.1,283.5L109.1,284.5L110.1,285.5L111.1,286.5L112.1,287.6L113.1,288.8L114.1,290.0L115.1,291.2L116.2,292.5L117.2,293.8L118.2,295.2L119.2,296.7L120.2,298.2L121.2,299.8L122.2,301.4L123.2,303.1L124.2,304.9L125.2,306.8L126.2,308.7L127.2,310.8L128.2,312.9L129.2,315.1L130.2,317.4L131.2,319.7L132.2,322.2L133.2,324.8L134.2,327.5L135.2,330.2L136.2,333.1L137.2,336.0L138.2,339.0L139.2,342.1L140.2,345.2L141.2,348.4L142.2,351.6L143.2,354.8L144.3,357.9L145.3,360.9L146.3,363.7L147.3,366.3L148.3,368.6L149.3,370.7L150.3,372.5L151.3,374.0L152.3,375.3L153.3,376.3L154.3,377.2L155.3,377.8L156.3,378.3L157.3,378.5L158.3,378.5L159.3,378.3L160.3,377.8L161.3,377.2L162.3,376.3L163.3,375.3L164.3,374.0L165.3,372.5L166.3,370.7L167.3,368.6L168.3,366.3L169.3,363.7L170.3,360.9L171.3,357.9L172.4,354.8L173.4,351.6L174.4,348.4L175.4,345.2L176.4,342.1L177.4,339.0L178.4,336.0L179.4,333.1L180.4,330.2L181.4,327.5L182.4,324.8L183.4,322.2L184.4,319.7L185.4,317.4L186.4,315.1L187.4,312.9L188.4,310.8L189.4,308.7L190.4,306.8L191.4,304.9L192.4,303.1L193.4,301.4L194.4,299.8L195.4,298.2L196.4,296.7L197.4,295.2L198.4,293.8L199.4,292.5L200.5,291.2L201.5,290.0L202.5,288.8L203.5,287.6L204.5,286.5L205.5,285.5L206.5,284.5L207.5,283.5L208.5,282.5L209.5,281.6L210.5,280.7L211.5,279.8L212.5,278.9L213.5,278.1L214.5,277.3L215.5,276.5L216.5,275.8L217.5,275.0L218.5,274.3L219.5,273.5L220.5,272.8L221.5,272.1L222.5,271.5L223.5,270.8L224.5,270.2L225.5,269.5L226.5,268.9L227.5,268.3L228.6,267.7L229.6,267.1L230.6,266.5L231.6,266.0L232.6,265.5L233.6,264.9L234.6,264.4L235.6,264.0L236.6,263.5L237.6,263.0L238.6,262.6L239.6,262.2L240.6,261.8L241.6,261.4L242.6,261.0L243.6,260.7L244.6,260.4L245.6,260.1L246.6,259.8L247.6,259.5L248.6,259.2L249.6,258.9L250.6,258.7L251.6,258.5L252.6,258.3L253.6,258.1L254.6,257.9L255.7,257.7L256.7,257.5L257.7,257.3L258.7,257.2L259.7,257.0L260.7,256.9L261.7,256.8L262.7,256.7L263.7,256.5L264.7,256.4L265.7,256.3L266.7,256.2L267.7,256.1L268.7,256.1L269.7,256.0L270.7,255.9L271.7,255.8L272.7,255.7L273.7,255.7L274.7,255.6L275.7,255.6L276.7,255.5L277.7,255.4L278.7,255.4L279.7,255.4L280.7,255.3L281.7,255.3L282.7,255.2L283.8,255.2L284.8,255.1L285.8,255.1L286.8,255.1L287.8,255.0L288.8,255.0L289.8,255.0L290.8,255.0L291.8,254.9" fill="none" stroke="#bebeff" stroke-width="4.70" stroke-linecap="square" stroke-linejoin="round"/>
<path d="M23.8,255.1L24.8,255.1L25.8,255.1L26.8,255.1L27.8,255.2L28.8,255.2L29.8,255.2L30.8,255.3L31.8,255.3L32.9,255.3L33.9,255.3L34.9,255.4L35.9,255.4L36.9,255.4L37.9,255.5L38.9,255.5L39.9,255.5L40.9,255.6L41.9,255.6L42.9,255.7L43.9,255.7L44.9,255.8L45.9,255.8L46.9,255.8L47.9,255.9L48.9,255.9L49.9,256.0L50.9,256.0L51.9,256.1L52.9,256.2L53.9,256.2L54.9,256.3L55.9,256.3L56.9,256.4L57.9,256.5L58.9,256.5L59.9,256.6L61.0,256.7L62.0,256.8L63.0,256.8L64.0,256.9L65.0,257.0L66.0,257.1L67.0,257.2L68.0,257.3L69.0,257.4L70.0,257.5L71.0,257.6L72.0,257.7L73.0,257.8L74.0,257.9L75.0,258.1L76.0,258.2L77.0,258.3L78.0,258.5L79.0,258.6L80.0,258.7L81.0,258.9L82.0,259.0L83.0,259.2L84.0,259.4L85.0,259.6L86.0,259.7L87.0,259.9L88.1,260.1L89.1,260.3L90.1,260.5L91.1,260.8L92.1,261.0L93.1,261.2L94.1,261.5L95.1,261.7L96.1,262.0L97.1,262.3L98.1,262.5L99.1,262.8L100.1,263.2L101.1,263.5L102.1,263.8L103.1,264.2L104.1,264.5L105.1,264.9L106.1,265.3L107.1,265.7L108.1,266.1L109.1,266.5L110.1,267.0L111.1,267.5L112.1,268.0L113.1,268.5L114.1,269.0L115.1,269.6L116.2,270.1L117.2,270.7L118.2,271.4L119.2,272.0L120.2,272.7L121.2,273.3L122.2,274.1L123.2,274.8L124.2,275.6L125.2,276.3L126.2,277.2L127.2,278.0L128.2,278.9L129.2,279.8L130.2,280.7L131.2,281.6L132.2,282.6L133.2,283.5L134.2,284.5L135.2,285.6L136.2,286.6L137.2,287.6L138.2,288.7L139.2,289.7L140.2,290.8L141.2,291.8L142.2,292.8L143.2,293.9L144.3,294.8L145.3,295.8L146.3,296.7L147.3,297.6L148.3,298.4L149.3,299.2L150.3,299.9L151.3,300.6L152.3,301.1L153.3,301.6L154.3,302.0L155.3,302.3L156.3,302.5L157.3,302.6L158.3,302.6L159.3,302.5L160.3,302.3L161.3,302.0L162.3,301.6L163.3,301.1L164.3,300.6L165.3,299.9L166.3,299.2L167.3,298.4L168.3,297.6L169.3,296.7L170.3,295.8L171.3,294.8L172.4,293.9L173.4,292.8L174.4,291.8L175.4,290.8L176.4,289.7L177.4,288.7L178.4,287.6L179.4,286.6L180.4,285.6L181.4,284.5L182.4,283.5L183.4,282.6L184.4,281.6L185.4,280.7L186.4,279.8L187.4,278.9L188.4,278.0L189.4,277.2L190.4,276.3L191.4,275.6L192.4,274.8L193.4,274.1L194.4,273.3L195.4,272.7L196.4,272.0L197.4,271.4L198.4,270.7L199.4,270.1L200.5,269.6L201.5,269.0L202.5,268.5L203.5,268.0L204.5,267.5L205.5,267.0L206.5,266.5L207.5,266.1L208.5,265.7L209.5,265.3L210.5,264.9L211.5,264.5L212.5,264.2L213.5,263.8L214.5,263.5L215.5,263.2L216.5,262.8L217.5,262.5L218.5,262.3L219.5,262.0L220.5,261.7L221.5,261.5L222.5,261.2L223.5,261.0L224.5,260.8L225.5,260.5L226.5,260.3L227.5,260.1L228.6,259.9L229.6,259.7L230.6,259.6L231.6,259.4L232.6,259.2L233.6,259.0L234.6,258.9L235.6,258.7L236.6,258.6L237.6,258.5L238.6,258.3L239.6,258.2L240.6,258.1L241.6,257.9L242.6,257.8L243.6,257.7L244.6,257.6L245.6,257.5L246.6,257.4L247.6,257.3L248.6,257.2L249.6,257.1L250.6,257.0L251.6,256.9L252.6,256.8L253.6,256.8L254.6,256.7L255.7,256.6L256.7,256.5L257.7,256.5L258.7,256.4L259.7,256.3L260.7,256.3L261.7,256.2L262.7,256.2L263.7,256.1L264.7,256.0L265.7,256.0L266.7,255.9L267.7,255.9L268.7,255.8L269.7,255.8L270.7,255.8L271.7,255.7L272.7,255.7L273.7,255.6L274.7,255.6L275.7,255.5L276.7,255.5L277.7,255.5L278.7,255.4L279.7,255.4L280.7,255.4L281.7,255.3L282.7,255.3L283.8,255.3L284.8,255.3L285.8,255.2L286.8,255.2L287.8,255.2L288.8,255.1L289.8,255.1L290.8,255.1L291.8,255.1" fill="none" stroke="#cce7c6" stroke-width="4.50" stroke-linecap="square" stroke-linejoin="round"/>
<path d="M23.8,254.8L24.8,254.8L25.8,254.9L26.8,254.9L27.8,254.9L28.8,254.9L29.8,255.0L30.8,255.0L31.8,255.0L32.9,255.1L33.9,255.1L34.9,255.1L35.9,255.2L36.9,255.2L37.9,255.2L38.9,255.3L39.9,255.3L40.9,255.4L41.9,255.4L42.9,255.5L43.9,255.6L44.9,255.6L45.9,255.7L46.9,255.8L47.9,255.8L48.9,255.9L49.9,256.0L50.9,256.1L51.9,256.2L52.9,256.3L53.9,256.4L54.9,256.5L55.9,256.6L56.9,256.7L57.9,256.8L58.9,257.0L59.9,257.1L61.0,257.3L62.0,257.4L63.0,257.6L64.0,257.8L65.0,258.0L66.0,258.2L67.0,258.4L68.0,258.6L69.0,258.8L70.0,259.1L71.0,259.4L72.0,259.6L73.0,259.9L74.0,260.2L75.0,260.5L76.0,260.9L77.0,261.2L78.0,261.6L79.0,262.0L80.0,262.3L81.0,262.7L82.0,263.2L83.0,263.6L84.0,264.0L85.0,264.5L86.0,265.0L87.0,265.5L88.1,266.0L89.1,266.5L90.1,267.0L91.1,267.5L92.1,268.1L93.1,268.6L94.1,269.2L95.1,269.7L96.1,270.3L97.1,270.9L98.1,271.6L99.1,272.2L100.1,272.8L101.1,273.5L102.1,274.2L103.1,274.8L104.1,275.6L105.1,276.3L106.1,277.0L107.1,277.8L108.1,278.6L109.1,279.4L110.1,280.3L111.1,281.2L112.1,282.1L113.1,283.0L114.1,284.0L115.1,285.1L116.2,286.1L117.2,287.2L118.2,288.4L119.2,289.6L120.2,290.9L121.2,292.2L122.2,293.5L123.2,295.0L124.2,296.5L125.2,298.0L126.2,299.6L127.2,301.3L128.2,303.1L129.2,304.9L130.2,306.8L131.2,308.7L132.2,310.8L133.2,312.9L134.2,315.1L135.2,317.4L136.2,319.7L137.2,322.1L138.2,324.6L139.2,327.1L140.2,329.7L141.2,332.3L142.2,334.9L143.2,337.5L144.3,340.0L145.3,342.5L146.3,344.8L147.3,347.0L148.3,349.0L149.3,350.7L150.3,352.3L151.3,353.7L152.3,354.9L153.3,355.9L154.3,356.7L155.3,357.3L156.3,357.7L157.3,357.9L158.3,357.9L159.3,357.7L160.3,357.3L161.3,356.7L162.3,355.9L163.3,354.9L164.3,353.7L165.3,352.3L166.3,350.7L167.3,349.0L168.3,347.0L169.3,344.8L170.3,342.5L171.3,340.0L172.4,337.5L173.4,334.9L174.4,332.3L175.4,329.7L176.4,327.1L177.4,324.6L178.4,322.1L179.4,319.7L180.4,317.4L181.4,315.1L182.4,312.9L183.4,310.8L184.4,308.7L185.4,306.8L186.4,304.9L187.4,303.1L188.4,301.3L189.4,299.6L190.4,298.0L191.4,296.5L192.4,295.0L193.4,293.5L194.4,292.2L195.4,290.9L196.4,289.6L197.4,288.4L198.4,287.2L199.4,286.1L200.5,285.1L201.5,284.0L202.5,283.0L203.5,282.1L204.5,281.2L205.5,280.3L206.5,279.4L207.5,278.6L208.5,277.8L209.5,277.0L210.5,276.3L211.5,275.6L212.5,274.8L213.5,274.2L214.5,273.5L215.5,272.8L216.5,272.2L217.5,271.6L218.5,270.9L219.5,270.3L220.5,269.7L221.5,269.2L222.5,268.6L223.5,268.1L224.5,267.5L225.5,267.0L226.5,266.5L227.5,266.0L228.6,265.5L229.6,265.0L230.6,264.5L231.6,264.0L232.6,263.6L233.6,263.2L234.6,262.7L235.6,262.3L236.6,262.0L237.6,261.6L238.6,261.2L239.6,260.9L240.6,260.5L241.6,260.2L242.6,259.9L243.6,259.6L244.6,259.4L245.6,259.1L246.6,258.8L247.6,258.6L248.6,258.4L249.6,258.2L250.6,258.0L251.6,257.8L252.6,257.6L253.6,257.4L254.6,257.3L255.7,257.1L256.7,257.0L257.7,256.8L258.7,256.7L259.7,256.6L260.7,256.5L261.7,256.4L262.7,256.3L263.7,256.2L264.7,256.1L265.7,256.0L266.7,255.9L267.7,255.8L268.7,255.8L269.7,255.7L270.7,255.6L271.7,255.6L272.7,255.5L273.7,255.4L274.7,255.4L275.7,255.3L276.7,255.3L277.7,255.2L278.7,255.2L279.7,255.2L280.7,255.1L281.7,255.1L282.7,255.1L283.8,255.0L284.8,255.0L285.8,255.0L286.8,254.9L287.8,254.9L288.8,254.9L289.8,254.9L290.8,254.8L291.8,254.8" fill="none" stroke="#8b0000" stroke-width="1.70" stroke-dasharray="15 4" stroke-dashoffset="0.0" stroke-linecap="round" stroke-linejoin="round"/>
<path d="M96.90,271.33V254.14" fill="none" stroke="#8b0000" stroke-width="1.70" stroke-linecap="butt"/>
<path d="M218.70,271.33V254.14" fill="none" stroke="#8b0000" stroke-width="1.70" stroke-linecap="butt"/>
<path d="M23.8,254.9L24.8,255.0L25.8,255.0L26.8,255.0L27.8,255.0L28.8,255.1L29.8,255.1L30.8,255.1L31.8,255.2L32.9,255.2L33.9,255.3L34.9,255.3L35.9,255.4L36.9,255.4L37.9,255.4L38.9,255.5L39.9,255.6L40.9,255.6L41.9,255.7L42.9,255.7L43.9,255.8L44.9,255.9L45.9,256.0L46.9,256.1L47.9,256.1L48.9,256.2L49.9,256.3L50.9,256.4L51.9,256.5L52.9,256.7L53.9,256.8L54.9,256.9L55.9,257.0L56.9,257.2L57.9,257.3L58.9,257.5L59.9,257.7L61.0,257.9L62.0,258.1L63.0,258.3L64.0,258.5L65.0,258.7L66.0,258.9L67.0,259.2L68.0,259.5L69.0,259.8L70.0,260.1L71.0,260.4L72.0,260.7L73.0,261.0L74.0,261.4L75.0,261.8L76.0,262.2L77.0,262.6L78.0,263.0L79.0,263.5L80.0,264.0L81.0,264.4L82.0,264.9L83.0,265.5L84.0,266.0L85.0,266.5L86.0,267.1L87.0,267.7L88.1,268.3L89.1,268.9L90.1,269.5L91.1,270.2L92.1,270.8L93.1,271.5L94.1,272.1L95.1,272.8L96.1,273.5L97.1,274.3L98.1,275.0L99.1,275.8L100.1,276.5L101.1,277.3L102.1,278.1L103.1,278.9L104.1,279.8L105.1,280.7L106.1,281.6L107.1,282.5L108.1,283.5L109.1,284.5L110.1,285.5L111.1,286.5L112.1,287.6L113.1,288.8L114.1,290.0L115.1,291.2L116.2,292.5L117.2,293.8L118.2,295.2L119.2,296.7L120.2,298.2L121.2,299.8L122.2,301.4L123.2,303.1L124.2,304.9L125.2,306.8L126.2,308.7L127.2,310.8L128.2,312.9L129.2,315.1L130.2,317.4L131.2,319.7L132.2,322.2L133.2,324.8L134.2,327.5L135.2,330.2L136.2,333.1L137.2,336.0L138.2,339.0L139.2,342.1L140.2,345.2L141.2,348.4L142.2,351.6L143.2,354.8L144.3,357.9L145.3,360.9L146.3,363.7L147.3,366.3L148.3,368.6L149.3,370.7L150.3,372.5L151.3,374.0L152.3,375.3L153.3,376.3L154.3,377.2L155.3,377.8L156.3,378.3L157.3,378.5L158.3,378.5L159.3,378.3L160.3,377.8L161.3,377.2L162.3,376.3L163.3,375.3L164.3,374.0L165.3,372.5L166.3,370.7L167.3,368.6L168.3,366.3L169.3,363.7L170.3,360.9L171.3,357.9L172.4,354.8L173.4,351.6L174.4,348.4L175.4,345.2L176.4,342.1L177.4,339.0L178.4,336.0L179.4,333.1L180.4,330.2L181.4,327.5L182.4,324.8L183.4,322.2L184.4,319.7L185.4,317.4L186.4,315.1L187.4,312.9L188.4,310.8L189.4,308.7L190.4,306.8L191.4,304.9L192.4,303.1L193.4,301.4L194.4,299.8L195.4,298.2L196.4,296.7L197.4,295.2L198.4,293.8L199.4,292.5L200.5,291.2L201.5,290.0L202.5,288.8L203.5,287.6L204.5,286.5L205.5,285.5L206.5,284.5L207.5,283.5L208.5,282.5L209.5,281.6L210.5,280.7L211.5,279.8L212.5,278.9L213.5,278.1L214.5,277.3L215.5,276.5L216.5,275.8L217.5,275.0L218.5,274.3L219.5,273.5L220.5,272.8L221.5,272.1L222.5,271.5L223.5,270.8L224.5,270.2L225.5,269.5L226.5,268.9L227.5,268.3L228.6,267.7L229.6,267.1L230.6,266.5L231.6,266.0L232.6,265.5L233.6,264.9L234.6,264.4L235.6,264.0L236.6,263.5L237.6,263.0L238.6,262.6L239.6,262.2L240.6,261.8L241.6,261.4L242.6,261.0L243.6,260.7L244.6,260.4L245.6,260.1L246.6,259.8L247.6,259.5L248.6,259.2L249.6,258.9L250.6,258.7L251.6,258.5L252.6,258.3L253.6,258.1L254.6,257.9L255.7,257.7L256.7,257.5L257.7,257.3L258.7,257.2L259.7,257.0L260.7,256.9L261.7,256.8L262.7,256.7L263.7,256.5L264.7,256.4L265.7,256.3L266.7,256.2L267.7,256.1L268.7,256.1L269.7,256.0L270.7,255.9L271.7,255.8L272.7,255.7L273.7,255.7L274.7,255.6L275.7,255.6L276.7,255.5L277.7,255.4L278.7,255.4L279.7,255.4L280.7,255.3L281.7,255.3L282.7,255.2L283.8,255.2L284.8,255.1L285.8,255.1L286.8,255.1L287.8,255.0L288.8,255.0L289.8,255.0L290.8,255.0L291.8,254.9" fill="none" stroke="#000094" stroke-width="1.70" stroke-dasharray="15 4 3.6 4" stroke-dashoffset="0.0" stroke-linecap="round" stroke-linejoin="round"/>
<path d="M96.90,274.63V254.14" fill="none" stroke="#000094" stroke-width="1.70" stroke-linecap="butt"/>
<path d="M218.70,274.63V254.14" fill="none" stroke="#000094" stroke-width="1.70" stroke-linecap="butt"/>
<path d="M23.8,254.7L24.2,254.7L24.6,254.7L25.0,254.7L25.4,254.7L25.8,254.7L26.2,254.7L26.6,254.7L27.0,254.7L27.4,254.7L27.8,254.7L28.2,254.7L28.6,254.7L29.0,254.7L29.4,254.7L29.8,254.7L30.2,254.7L30.6,254.7L31.0,254.7L31.4,254.8L31.7,254.8L32.1,254.8L32.5,254.8L32.9,254.8L33.3,254.8L33.7,254.8L34.1,254.8L34.5,254.8L34.9,254.8L35.3,254.8L35.7,254.8L36.1,254.8L36.5,254.8L36.9,254.8L37.3,254.9L37.7,254.9L38.1,254.9L38.5,254.9L38.9,254.9L39.3,254.9L39.7,254.9L40.1,254.9L40.5,254.9L40.9,254.9L41.3,254.9L41.7,254.9L42.1,254.9L42.5,255.0L42.8,255.0L43.2,255.0L43.6,255.0L44.0,255.0L44.4,255.0L44.8,255.0L45.2,255.0L45.6,255.0L46.0,255.0L46.4,255.0L46.8,255.0L47.2,255.1L47.6,255.1L48.0,255.1L48.4,255.1L48.8,255.1L49.2,255.1L49.6,255.1L50.0,255.1L50.4,255.1L50.8,255.1L51.2,255.2L51.6,255.2L52.0,255.2L52.4,255.2L52.8,255.2L53.2,255.2L53.5,255.2L53.9,255.2L54.3,255.3L54.7,255.3L55.1,255.3L55.5,255.3L55.9,255.3L56.3,255.3L56.7,255.3L57.1,255.4L57.5,255.4L57.9,255.4L58.3,255.4L58.7,255.4L59.1,255.4L59.5,255.4L59.9,255.5L60.3,255.5L60.7,255.5L61.1,255.5L61.5,255.5L61.9,255.5L62.3,255.5L62.7,255.5L63.1,255.6L63.5,255.6L63.9,255.6L64.2,255.6L64.6,255.6L65.0,255.6L65.4,255.6L65.8,255.6L66.2,255.6L66.6,255.6L67.0,255.6L67.4,255.7L67.8,255.7L68.2,255.7L68.6,255.7L69.0,255.7L69.4,255.7L69.8,255.7L70.2,255.7L70.6,255.7L71.0,255.7L71.4,255.7L71.8,255.7L72.2,255.7L72.6,255.7L73.0,255.7L73.4,255.8L73.8,255.8L74.2,255.8L74.6,255.8L75.0,255.8L75.4,255.8L75.7,255.8L76.1,255.8L76.5,255.8L76.9,255.8L77.3,255.8L77.7,255.8L78.1,255.7L78.5,255.7L78.9,255.7L79.3,255.6L79.7,255.6L80.1,255.6L80.5,255.5L80.9,255.5L81.3,255.4L81.7,255.4L82.1,255.3L82.5,255.2L82.9,255.1L83.3,255.0L83.7,254.9L84.0,254.7L84.4,254.6L84.7,254.4L85.1,254.2L85.4,254.0L85.6,253.8L85.9,253.5L86.2,253.2L86.4,252.8L86.7,252.5L86.9,252.1L87.1,251.8L87.3,251.5L87.5,251.1L87.7,250.8L87.9,250.4L88.0,250.1L88.2,249.7L88.4,249.3L88.5,249.0L88.7,248.6L88.8,248.2L88.9,247.8L89.0,247.4L89.1,247.1L89.3,246.7L89.4,246.3L89.4,245.9L89.5,245.5L89.6,245.2L89.7,244.8L89.8,244.4L89.9,244.0L90.0,243.6L90.0,243.2L90.1,242.8L90.2,242.4L90.2,242.0L90.3,241.6L90.4,241.2L90.4,240.9L90.5,240.5L90.5,240.1L90.6,239.7L90.6,239.3L90.7,238.9L90.7,238.5L90.8,238.1L90.8,237.7L90.9,237.3L90.9,236.9L91.0,236.5L91.0,236.1L91.0,235.7L91.1,235.3L91.1,234.9L91.1,234.6L91.2,234.2L91.2,233.8L91.2,233.4L91.3,233.0L91.3,232.6L91.3,232.2L91.4,231.8L91.4,231.4L91.4,231.0L91.5,230.6L91.5,230.2L91.5,229.8L91.6,229.4L91.6,229.0L91.6,228.6L91.7,228.2L91.7,227.8L91.7,227.4L91.7,227.0L91.8,226.6L91.8,226.2L91.8,225.9L91.8,225.5L91.9,225.1L91.9,224.7L91.9,224.3L91.9,223.9L92.0,223.5L92.0,223.1L92.0,222.7L92.0,222.3L92.0,221.9L92.1,221.5L92.1,221.1L92.1,220.7L92.1,220.3L92.1,219.9L92.2,219.5L92.2,219.1L92.2,218.7L92.2,218.3L92.2,217.9L92.3,217.5L92.3,217.1L92.3,216.7L92.3,216.4L92.3,216.0L92.3,215.6L92.4,215.2L92.4,214.8L92.4,214.4L92.4,214.0L92.4,213.6L92.4,213.2L92.5,212.8L92.5,212.4L92.5,212.0L92.5,211.6L92.5,211.2L92.5,210.8L92.5,210.4L92.6,210.0L92.6,209.6L92.6,209.2L92.6,208.8L92.6,208.4L92.6,208.0L92.6,207.6L92.6,207.2L92.7,206.8L92.7,206.4L92.7,206.0L92.7,205.7L92.7,205.3L92.7,204.9L92.7,204.5L92.7,204.1L92.8,203.7L92.8,203.3L92.8,202.9L92.8,202.5L92.8,202.1L92.8,201.7L92.8,201.3L92.8,200.9L92.8,200.5L92.8,200.1L92.9,199.7L92.9,199.3L92.9,198.9L92.9,198.5" fill="none" stroke="#2c5c23" stroke-width="1.60" stroke-dasharray="3.7 5.8" stroke-dashoffset="0.0" stroke-linecap="round" stroke-linejoin="round"/>
<path d="M102.1,198.5L102.1,199.1L102.2,199.6L102.2,200.1L102.2,200.7L102.2,201.2L102.2,201.8L102.2,202.3L102.2,202.8L102.2,203.4L102.3,203.9L102.3,204.4L102.3,205.0L102.3,205.5L102.3,206.1L102.3,206.6L102.4,207.1L102.4,207.7L102.4,208.2L102.4,208.8L102.4,209.3L102.5,209.8L102.5,210.4L102.5,210.9L102.5,211.4L102.5,212.0L102.6,212.5L102.6,213.1L102.6,213.6L102.6,214.1L102.7,214.7L102.7,215.2L102.7,215.8L102.8,216.3L102.8,216.8L102.8,217.4L102.9,217.9L102.9,218.4L102.9,219.0L103.0,219.5L103.0,220.1L103.0,220.6L103.1,221.1L103.1,221.7L103.1,222.2L103.2,222.7L103.2,223.3L103.3,223.8L103.3,224.4L103.3,224.9L103.4,225.4L103.4,226.0L103.5,226.5L103.5,227.0L103.6,227.6L103.6,228.1L103.7,228.6L103.7,229.2L103.8,229.7L103.9,230.3L103.9,230.8L104.0,231.3L104.1,231.9L104.2,232.4L104.2,232.9L104.3,233.5L104.4,234.0L104.5,234.5L104.5,235.1L104.6,235.6L104.7,236.1L104.8,236.7L104.8,237.2L104.9,237.7L105.0,238.3L105.1,238.8L105.2,239.3L105.3,239.9L105.3,240.4L105.4,240.9L105.5,241.5L105.6,242.0L105.7,242.5L105.8,243.0L106.0,243.6L106.1,244.1L106.2,244.6L106.4,245.1L106.5,245.6L106.7,246.2L106.8,246.7L107.0,247.2L107.1,247.7L107.3,248.2L107.4,248.7L107.6,249.3L107.8,249.8L107.9,250.3L108.1,250.8L108.2,251.3L108.4,251.9L108.5,252.4L108.7,252.9L108.9,253.4L109.0,254.0L109.2,254.5L109.4,255.0L109.6,255.5L109.8,255.9L110.0,256.4L110.3,256.8L110.6,257.3L110.9,257.7L111.2,258.1L111.6,258.5L112.0,259.0L112.4,259.4L112.7,259.7L113.1,260.1L113.5,260.5L113.9,260.9L114.3,261.3L114.7,261.6L115.1,262.0L115.5,262.3L115.9,262.7L116.4,263.0L116.8,263.3L117.2,263.7L117.6,264.0L118.1,264.3L118.5,264.6L118.9,265.0L119.4,265.3L119.8,265.6L120.3,265.9L120.7,266.2L121.2,266.5L121.6,266.8L122.1,267.1L122.5,267.4L123.0,267.6L123.4,267.9L123.9,268.2L124.4,268.5L124.9,268.7L125.4,268.9L125.8,269.2L126.3,269.4L126.8,269.6L127.4,269.7L127.9,269.9L128.4,270.1L128.9,270.3L129.5,270.4L130.0,270.6L130.5,270.7L131.0,270.7L131.5,270.7L132.1,270.7L132.6,270.5L133.1,270.3L133.6,270.0L134.1,269.7L134.5,269.4L134.9,269.1L135.3,268.8L135.7,268.4L136.1,268.0L136.4,267.5L136.7,267.1L137.0,266.6L137.3,266.1L137.5,265.7L137.8,265.2L138.0,264.7L138.2,264.2L138.4,263.7L138.6,263.2L138.8,262.7L138.9,262.2L139.1,261.6L139.2,261.1L139.4,260.6L139.5,260.1L139.7,259.6L139.8,259.0L140.0,258.5L140.1,258.0L140.2,257.5L140.3,256.9L140.5,256.4L140.6,255.9L140.7,255.4L140.8,254.8L140.9,254.3L141.0,253.8L141.1,253.2L141.2,252.7L141.3,252.2L141.4,251.7L141.5,251.1L141.6,250.6L141.7,250.1L141.7,249.5L141.8,249.0L141.9,248.5L142.0,247.9L142.0,247.4L142.1,246.9L142.2,246.3L142.2,245.8L142.3,245.3L142.3,244.7L142.4,244.2L142.5,243.6L142.5,243.1L142.6,242.6L142.6,242.0L142.7,241.5L142.7,241.0L142.8,240.4L142.8,239.9L142.9,239.4L142.9,238.8L143.0,238.3L143.0,237.7L143.1,237.2L143.1,236.7L143.2,236.1L143.2,235.6L143.3,235.1L143.3,234.5L143.4,234.0L143.4,233.5L143.5,232.9L143.5,232.4L143.6,231.8L143.6,231.3L143.7,230.8L143.7,230.2L143.8,229.7L143.8,229.2L143.9,228.6L143.9,228.1L144.0,227.6L144.0,227.0L144.1,226.5L144.1,225.9L144.2,225.4L144.2,224.9L144.3,224.3L144.3,223.8L144.4,223.3L144.4,222.7L144.5,222.2L144.5,221.6L144.6,221.1L144.6,220.6L144.7,220.0L144.7,219.5L144.8,219.0L144.8,218.4L144.8,217.9L144.9,217.4L144.9,216.8L145.0,216.3L145.0,215.7L145.0,215.2L145.1,214.7L145.1,214.1L145.2,213.6L145.2,213.1L145.2,212.5L145.3,212.0L145.3,211.4L145.3,210.9L145.4,210.4L145.4,209.8L145.4,209.3L145.4,208.7L145.5,208.2L145.5,207.7L145.5,207.1L145.6,206.6L145.6,206.1L145.6,205.5L145.6,205.0L145.7,204.4L145.7,203.9L145.7,203.4L145.8,202.8L145.8,202.3L145.8,201.8L145.8,201.2L145.8,200.7L145.9,200.1L145.9,199.6L145.9,199.1L145.9,198.5" fill="none" stroke="#2c5c23" stroke-width="1.60" stroke-dasharray="3.7 5.8" stroke-dashoffset="0.0" stroke-linecap="round" stroke-linejoin="round"/>
<path d="M291.8,254.7L291.4,254.7L291.0,254.7L290.6,254.7L290.2,254.7L289.8,254.7L289.4,254.7L289.0,254.7L288.6,254.7L288.2,254.7L287.8,254.7L287.4,254.7L287.0,254.7L286.6,254.7L286.2,254.7L285.8,254.7L285.4,254.7L285.0,254.7L284.6,254.7L284.2,254.8L283.9,254.8L283.5,254.8L283.1,254.8L282.7,254.8L282.3,254.8L281.9,254.8L281.5,254.8L281.1,254.8L280.7,254.8L280.3,254.8L279.9,254.8L279.5,254.8L279.1,254.8L278.7,254.8L278.3,254.9L277.9,254.9L277.5,254.9L277.1,254.9L276.7,254.9L276.3,254.9L275.9,254.9L275.5,254.9L275.1,254.9L274.7,254.9L274.3,254.9L273.9,254.9L273.5,254.9L273.1,255.0L272.8,255.0L272.4,255.0L272.0,255.0L271.6,255.0L271.2,255.0L270.8,255.0L270.4,255.0L270.0,255.0L269.6,255.0L269.2,255.0L268.8,255.0L268.4,255.1L268.0,255.1L267.6,255.1L267.2,255.1L266.8,255.1L266.4,255.1L266.0,255.1L265.6,255.1L265.2,255.1L264.8,255.1L264.4,255.2L264.0,255.2L263.6,255.2L263.2,255.2L262.8,255.2L262.4,255.2L262.1,255.2L261.7,255.2L261.3,255.3L260.9,255.3L260.5,255.3L260.1,255.3L259.7,255.3L259.3,255.3L258.9,255.3L258.5,255.4L258.1,255.4L257.7,255.4L257.3,255.4L256.9,255.4L256.5,255.4L256.1,255.4L255.7,255.5L255.3,255.5L254.9,255.5L254.5,255.5L254.1,255.5L253.7,255.5L253.3,255.5L252.9,255.5L252.5,255.6L252.1,255.6L251.7,255.6L251.4,255.6L251.0,255.6L250.6,255.6L250.2,255.6L249.8,255.6L249.4,255.6L249.0,255.6L248.6,255.6L248.2,255.7L247.8,255.7L247.4,255.7L247.0,255.7L246.6,255.7L246.2,255.7L245.8,255.7L245.4,255.7L245.0,255.7L244.6,255.7L244.2,255.7L243.8,255.7L243.4,255.7L243.0,255.7L242.6,255.7L242.2,255.8L241.8,255.8L241.4,255.8L241.0,255.8L240.6,255.8L240.2,255.8L239.9,255.8L239.5,255.8L239.1,255.8L238.7,255.8L238.3,255.8L237.9,255.8L237.5,255.7L237.1,255.7L236.7,255.7L236.3,255.6L235.9,255.6L235.5,255.6L235.1,255.5L234.7,255.5L234.3,255.4L233.9,255.4L233.5,255.3L233.1,255.2L232.7,255.1L232.3,255.0L231.9,254.9L231.6,254.7L231.2,254.6L230.9,254.4L230.5,254.2L230.2,254.0L230.0,253.8L229.7,253.5L229.4,253.2L229.2,252.8L228.9,252.5L228.7,252.1L228.5,251.8L228.3,251.5L228.1,251.1L227.9,250.8L227.7,250.4L227.6,250.1L227.4,249.7L227.2,249.3L227.1,249.0L226.9,248.6L226.8,248.2L226.7,247.8L226.6,247.4L226.5,247.1L226.3,246.7L226.2,246.3L226.2,245.9L226.1,245.5L226.0,245.2L225.9,244.8L225.8,244.4L225.7,244.0L225.6,243.6L225.6,243.2L225.5,242.8L225.4,242.4L225.4,242.0L225.3,241.6L225.2,241.2L225.2,240.9L225.1,240.5L225.1,240.1L225.0,239.7L225.0,239.3L224.9,238.9L224.9,238.5L224.8,238.1L224.8,237.7L224.7,237.3L224.7,236.9L224.6,236.5L224.6,236.1L224.6,235.7L224.5,235.3L224.5,234.9L224.5,234.6L224.4,234.2L224.4,233.8L224.4,233.4L224.3,233.0L224.3,232.6L224.3,232.2L224.2,231.8L224.2,231.4L224.2,231.0L224.1,230.6L224.1,230.2L224.1,229.8L224.0,229.4L224.0,229.0L224.0,228.6L223.9,228.2L223.9,227.8L223.9,227.4L223.9,227.0L223.8,226.6L223.8,226.2L223.8,225.9L223.8,225.5L223.7,225.1L223.7,224.7L223.7,224.3L223.7,223.9L223.6,223.5L223.6,223.1L223.6,222.7L223.6,222.3L223.6,221.9L223.5,221.5L223.5,221.1L223.5,220.7L223.5,220.3L223.5,219.9L223.4,219.5L223.4,219.1L223.4,218.7L223.4,218.3L223.4,217.9L223.3,217.5L223.3,217.1L223.3,216.7L223.3,216.4L223.3,216.0L223.3,215.6L223.2,215.2L223.2,214.8L223.2,214.4L223.2,214.0L223.2,213.6L223.2,213.2L223.1,212.8L223.1,212.4L223.1,212.0L223.1,211.6L223.1,211.2L223.1,210.8L223.1,210.4L223.0,210.0L223.0,209.6L223.0,209.2L223.0,208.8L223.0,208.4L223.0,208.0L223.0,207.6L223.0,207.2L222.9,206.8L222.9,206.4L222.9,206.0L222.9,205.7L222.9,205.3L222.9,204.9L222.9,204.5L222.9,204.1L222.8,203.7L222.8,203.3L222.8,202.9L222.8,202.5L222.8,202.1L222.8,201.7L222.8,201.3L222.8,200.9L222.8,200.5L222.8,200.1L222.7,199.7L222.7,199.3L222.7,198.9L222.7,198.5" fill="none" stroke="#2c5c23" stroke-width="1.60" stroke-dasharray="3.7 5.8" stroke-dashoffset="0.0" stroke-linecap="round" stroke-linejoin="round"/>
<path d="M213.5,198.5L213.5,199.1L213.4,199.6L213.4,200.1L213.4,200.7L213.4,201.2L213.4,201.8L213.4,202.3L213.4,202.8L213.4,203.4L213.3,203.9L213.3,204.4L213.3,205.0L213.3,205.5L213.3,206.1L213.3,206.6L213.2,207.1L213.2,207.7L213.2,208.2L213.2,208.8L213.2,209.3L213.1,209.8L213.1,210.4L213.1,210.9L213.1,211.4L213.1,212.0L213.0,212.5L213.0,213.1L213.0,213.6L213.0,214.1L212.9,214.7L212.9,215.2L212.9,215.8L212.8,216.3L212.8,216.8L212.8,217.4L212.7,217.9L212.7,218.4L212.7,219.0L212.6,219.5L212.6,220.1L212.6,220.6L212.5,221.1L212.5,221.7L212.5,222.2L212.4,222.7L212.4,223.3L212.3,223.8L212.3,224.4L212.3,224.9L212.2,225.4L212.2,226.0L212.1,226.5L212.1,227.0L212.0,227.6L212.0,228.1L211.9,228.6L211.9,229.2L211.8,229.7L211.7,230.3L211.7,230.8L211.6,231.3L211.5,231.9L211.4,232.4L211.4,232.9L211.3,233.5L211.2,234.0L211.1,234.5L211.1,235.1L211.0,235.6L210.9,236.1L210.8,236.7L210.8,237.2L210.7,237.7L210.6,238.3L210.5,238.8L210.4,239.3L210.3,239.9L210.3,240.4L210.2,240.9L210.1,241.5L210.0,242.0L209.9,242.5L209.8,243.0L209.6,243.6L209.5,244.1L209.4,244.6L209.2,245.1L209.1,245.6L208.9,246.2L208.8,246.7L208.6,247.2L208.5,247.7L208.3,248.2L208.2,248.7L208.0,249.3L207.8,249.8L207.7,250.3L207.5,250.8L207.4,251.3L207.2,251.9L207.1,252.4L206.9,252.9L206.7,253.4L206.6,254.0L206.4,254.5L206.2,255.0L206.0,255.5L205.8,255.9L205.6,256.4L205.3,256.8L205.0,257.3L204.7,257.7L204.4,258.1L204.0,258.5L203.6,259.0L203.2,259.4L202.9,259.7L202.5,260.1L202.1,260.5L201.7,260.9L201.3,261.3L200.9,261.6L200.5,262.0L200.1,262.3L199.7,262.7L199.2,263.0L198.8,263.3L198.4,263.7L198.0,264.0L197.5,264.3L197.1,264.6L196.7,265.0L196.2,265.3L195.8,265.6L195.3,265.9L194.9,266.2L194.4,266.5L194.0,266.8L193.5,267.1L193.1,267.4L192.6,267.6L192.2,267.9L191.7,268.2L191.2,268.5L190.7,268.7L190.2,268.9L189.8,269.2L189.3,269.4L188.8,269.6L188.2,269.7L187.7,269.9L187.2,270.1L186.7,270.3L186.1,270.4L185.6,270.6L185.1,270.7L184.6,270.7L184.1,270.7L183.5,270.7L183.0,270.5L182.5,270.3L182.0,270.0L181.5,269.7L181.1,269.4L180.7,269.1L180.3,268.8L179.9,268.4L179.5,268.0L179.2,267.5L178.9,267.1L178.6,266.6L178.3,266.1L178.1,265.7L177.8,265.2L177.6,264.7L177.4,264.2L177.2,263.7L177.0,263.2L176.8,262.7L176.7,262.2L176.5,261.6L176.4,261.1L176.2,260.6L176.1,260.1L175.9,259.6L175.8,259.0L175.6,258.5L175.5,258.0L175.4,257.5L175.3,256.9L175.1,256.4L175.0,255.9L174.9,255.4L174.8,254.8L174.7,254.3L174.6,253.8L174.5,253.2L174.4,252.7L174.3,252.2L174.2,251.7L174.1,251.1L174.0,250.6L173.9,250.1L173.9,249.5L173.8,249.0L173.7,248.5L173.6,247.9L173.6,247.4L173.5,246.9L173.4,246.3L173.4,245.8L173.3,245.3L173.3,244.7L173.2,244.2L173.1,243.6L173.1,243.1L173.0,242.6L173.0,242.0L172.9,241.5L172.9,241.0L172.8,240.4L172.8,239.9L172.7,239.4L172.7,238.8L172.6,238.3L172.6,237.7L172.5,237.2L172.5,236.7L172.4,236.1L172.4,235.6L172.3,235.1L172.3,234.5L172.2,234.0L172.2,233.5L172.1,232.9L172.1,232.4L172.0,231.8L172.0,231.3L171.9,230.8L171.9,230.2L171.8,229.7L171.8,229.2L171.7,228.6L171.7,228.1L171.6,227.6L171.6,227.0L171.5,226.5L171.5,225.9L171.4,225.4L171.4,224.9L171.3,224.3L171.3,223.8L171.2,223.3L171.2,222.7L171.1,222.2L171.1,221.6L171.0,221.1L171.0,220.6L170.9,220.0L170.9,219.5L170.8,219.0L170.8,218.4L170.8,217.9L170.7,217.4L170.7,216.8L170.6,216.3L170.6,215.7L170.6,215.2L170.5,214.7L170.5,214.1L170.4,213.6L170.4,213.1L170.4,212.5L170.3,212.0L170.3,211.4L170.3,210.9L170.2,210.4L170.2,209.8L170.2,209.3L170.2,208.7L170.1,208.2L170.1,207.7L170.1,207.1L170.0,206.6L170.0,206.1L170.0,205.5L170.0,205.0L169.9,204.4L169.9,203.9L169.9,203.4L169.8,202.8L169.8,202.3L169.8,201.8L169.8,201.2L169.8,200.7L169.7,200.1L169.7,199.6L169.7,199.1L169.7,198.5" fill="none" stroke="#2c5c23" stroke-width="1.60" stroke-dasharray="3.7 5.8" stroke-dashoffset="0.0" stroke-linecap="round" stroke-linejoin="round"/>
</g>
<clipPath id="ci3"><rect x="206.50" y="284.10" width="87.90" height="86.10"/></clipPath>
<path d="M207.00,308.75H293.50" stroke="#d6d6d6" stroke-width="1" fill="none"/>
<g clip-path="url(#ci3)">
<path d="M207.00,344.35H294.30" stroke="#bebeff" stroke-width="4.10" fill="none"/>
<path d="M207.00,339.04H294.30" stroke="#ff7f7f" stroke-width="6.30" fill="none"/>
<path d="M207.00,322.84H294.30" stroke="#cce7c6" stroke-width="4.10" fill="none"/>
<path d="M208.6,338.2L209.1,338.2L209.6,338.2L210.1,338.2L210.6,338.2L211.1,338.1L211.6,338.1L212.1,338.1L212.6,338.1L213.1,338.1L213.6,338.1L214.1,338.1L214.6,338.1L215.1,338.1L215.6,338.1L216.1,338.1L216.6,338.0L217.1,338.0L217.6,338.0L218.1,338.0L218.6,338.0L219.1,338.0L219.6,338.0L220.1,337.9L220.6,337.9L221.1,337.9L221.6,337.9L222.1,337.9L222.6,337.8L223.1,337.8L223.6,337.8L224.1,337.8L224.6,337.7L225.1,337.7L225.6,337.7L226.1,337.7L226.6,337.6L227.1,337.6L227.6,337.6L228.1,337.5L228.6,337.5L229.1,337.4L229.6,337.4L230.1,337.3L230.6,337.3L231.1,337.2L231.6,337.1L232.1,337.1L232.6,337.0L233.1,336.9L233.6,336.8L234.1,336.7L234.6,336.6L235.1,336.5L235.6,336.4L236.1,336.2L236.6,336.1L237.1,335.9L237.6,335.7L238.1,335.5L238.6,335.3L239.1,335.0L239.6,334.8L240.1,334.4L240.6,334.1L241.1,333.6L241.6,333.2L242.1,332.6L242.6,332.0L243.1,331.3L243.6,330.5L244.1,329.5L244.6,328.4L245.1,327.1L245.6,325.7L246.1,324.0L246.6,322.0L247.1,319.9L247.6,317.6L248.1,315.2L248.6,312.8L249.1,310.8L249.6,309.4L250.1,308.8L250.6,309.0L251.1,310.2L251.6,312.0L252.1,314.2L252.6,316.6L253.1,319.0L253.6,321.2L254.1,323.2L254.6,325.0L255.1,326.6L255.6,327.9L256.1,329.1L256.6,330.1L257.1,331.0L257.6,331.7L258.1,332.4L258.6,333.0L259.1,333.5L259.6,333.9L260.1,334.3L260.6,334.6L261.1,334.9L261.6,335.2L262.1,335.4L262.6,335.7L263.1,335.8L263.6,336.0L264.1,336.2L264.6,336.3L265.1,336.5L265.6,336.6L266.1,336.7L266.6,336.8L267.1,336.9L267.6,337.0L268.1,337.0L268.6,337.1L269.1,337.2L269.6,337.2L270.1,337.3L270.6,337.4L271.1,337.4L271.6,337.5L272.1,337.5L272.6,337.5L273.1,337.6L273.6,337.6L274.1,337.6L274.6,337.7L275.1,337.7L275.6,337.7L276.1,337.8L276.6,337.8L277.1,337.8L277.6,337.8L278.1,337.9L278.6,337.9L279.1,337.9L279.6,337.9L280.1,337.9L280.6,337.9L281.1,338.0L281.6,338.0L282.1,338.0L282.6,338.0L283.1,338.0L283.6,338.0L284.1,338.0L284.6,338.1L285.1,338.1L285.6,338.1L286.1,338.1L286.6,338.1L287.1,338.1L287.6,338.1L288.1,338.1L288.6,338.1L289.1,338.1L289.6,338.2L290.1,338.2L290.6,338.2L291.1,338.2L291.6,338.2L292.1,338.2L292.6,338.2L293.1,338.2" fill="none" stroke="#8b0000" stroke-width="1.60" stroke-dasharray="15 4" stroke-dashoffset="0.0" stroke-linecap="round" stroke-linejoin="round"/>
<path d="M208.6,343.8L209.1,343.8L209.6,343.8L210.1,343.8L210.6,343.7L211.1,343.7L211.6,343.7L212.1,343.7L212.6,343.7L213.1,343.7L213.6,343.7L214.1,343.7L214.6,343.7L215.1,343.6L215.6,343.6L216.1,343.6L216.6,343.6L217.1,343.6L217.6,343.6L218.1,343.6L218.6,343.5L219.1,343.5L219.6,343.5L220.1,343.5L220.6,343.5L221.1,343.4L221.6,343.4L222.1,343.4L222.6,343.4L223.1,343.3L223.6,343.3L224.1,343.3L224.6,343.3L225.1,343.2L225.6,343.2L226.1,343.2L226.6,343.1L227.1,343.1L227.6,343.0L228.1,343.0L228.6,342.9L229.1,342.9L229.6,342.8L230.1,342.8L230.6,342.7L231.1,342.6L231.6,342.5L232.1,342.5L232.6,342.4L233.1,342.3L233.6,342.2L234.1,342.0L234.6,341.9L235.1,341.8L235.6,341.6L236.1,341.5L236.6,341.3L237.1,341.1L237.6,340.9L238.1,340.6L238.6,340.3L239.1,340.0L239.6,339.7L240.1,339.3L240.6,338.9L241.1,338.4L241.6,337.8L242.1,337.2L242.6,336.4L243.1,335.6L243.6,334.6L244.1,333.5L244.6,332.2L245.1,330.6L245.6,328.9L246.1,326.9L246.6,324.6L247.1,322.0L247.6,319.2L248.1,316.4L248.6,313.6L249.1,311.2L249.6,309.5L250.1,308.8L250.6,309.1L251.1,310.5L251.6,312.6L252.1,315.3L252.6,318.1L253.1,320.9L253.6,323.6L254.1,326.0L254.6,328.1L255.1,330.0L255.6,331.6L256.1,333.0L256.6,334.2L257.1,335.2L257.6,336.1L258.1,336.9L258.6,337.6L259.1,338.2L259.6,338.7L260.1,339.1L260.6,339.5L261.1,339.9L261.6,340.2L262.1,340.5L262.6,340.8L263.1,341.0L263.6,341.2L264.1,341.4L264.6,341.6L265.1,341.7L265.6,341.9L266.1,342.0L266.6,342.1L267.1,342.2L267.6,342.3L268.1,342.4L268.6,342.5L269.1,342.6L269.6,342.7L270.1,342.7L270.6,342.8L271.1,342.9L271.6,342.9L272.1,343.0L272.6,343.0L273.1,343.1L273.6,343.1L274.1,343.1L274.6,343.2L275.1,343.2L275.6,343.2L276.1,343.3L276.6,343.3L277.1,343.3L277.6,343.4L278.1,343.4L278.6,343.4L279.1,343.4L279.6,343.5L280.1,343.5L280.6,343.5L281.1,343.5L281.6,343.5L282.1,343.6L282.6,343.6L283.1,343.6L283.6,343.6L284.1,343.6L284.6,343.6L285.1,343.6L285.6,343.7L286.1,343.7L286.6,343.7L287.1,343.7L287.6,343.7L288.1,343.7L288.6,343.7L289.1,343.7L289.6,343.7L290.1,343.8L290.6,343.8L291.1,343.8L291.6,343.8L292.1,343.8L292.6,343.8L293.1,343.8" fill="none" stroke="#000094" stroke-width="1.60" stroke-dasharray="15 4 3.6 4" stroke-dashoffset="0.0" stroke-linecap="round" stroke-linejoin="round"/>
</g>
<rect x="207.00" y="284.10" width="86.50" height="86.10" fill="none" stroke="#b4b4b4" stroke-width="1"/>
<path d="M207.00,308.75h3.2M207.00,357.85h3.2M208.40,370.20v-2.8M250.20,370.20v-2.8" stroke="#8f8f8f" stroke-width="0.8" fill="none"/>
<text x="203.0" y="312.4" font-family="'Liberation Serif', serif" font-size="10.90" text-anchor="end"  >1</text>
<text x="203.0" y="361.4" font-family="'Liberation Serif', serif" font-size="10.90" text-anchor="end"  >0.8</text>
<text x="208.4" y="382.2" font-family="'Liberation Serif', serif" font-size="10.90" text-anchor="middle"  >0.9999</text>
<text x="250.2" y="382.2" font-family="'Liberation Serif', serif" font-size="10.90" text-anchor="middle"  >1</text>
<rect x="18.00" y="212.45" width="279.50" height="181.10" fill="none" stroke="#a2a2a2" stroke-width="0.8"/>
<path d="M18.00,379.62h3.3M18.00,365.69h3.3M18.00,351.76h3.3M18.00,337.83h3.3M18.00,323.90h3.3M18.00,309.97h3.3M18.00,296.03h3.3M18.00,282.10h3.3M18.00,268.17h3.3M18.00,254.24h3.3M18.00,240.31h3.3M18.00,226.38h3.3M23.82,393.55v-2.0M36.00,393.55v-3.2M48.18,393.55v-2.0M60.36,393.55v-2.0M72.54,393.55v-2.0M84.72,393.55v-2.0M96.90,393.55v-3.2M109.08,393.55v-2.0M121.26,393.55v-2.0M133.44,393.55v-2.0M145.62,393.55v-2.0M157.80,393.55v-3.2M169.98,393.55v-2.0M182.16,393.55v-2.0M194.34,393.55v-2.0M206.52,393.55v-2.0M218.70,393.55v-3.2M230.88,393.55v-2.0M243.06,393.55v-2.0M255.24,393.55v-2.0M267.42,393.55v-2.0M279.60,393.55v-3.2M291.78,393.55v-2.0" stroke="#8f8f8f" stroke-width="0.8" fill="none"/>
<text x="13.7" y="257.8" font-family="'Liberation Serif', serif" font-size="10.90" text-anchor="end"  >1.</text>
<text x="13.7" y="327.5" font-family="'Liberation Serif', serif" font-size="10.90" text-anchor="end"  >0.5</text>
<text x="13.7" y="397.2" font-family="'Liberation Serif', serif" font-size="10.90" text-anchor="end"  >0.</text>
<text x="36.0" y="405.8" font-family="'Liberation Serif', serif" font-size="10.90" text-anchor="middle"  >−2</text>
<text x="96.9" y="405.8" font-family="'Liberation Serif', serif" font-size="10.90" text-anchor="middle"  >−1</text>
<text x="157.8" y="405.8" font-family="'Liberation Serif', serif" font-size="10.90" text-anchor="middle"  >0</text>
<text x="218.7" y="405.8" font-family="'Liberation Serif', serif" font-size="10.90" text-anchor="middle"  >1</text>
<text x="279.6" y="405.8" font-family="'Liberation Serif', serif" font-size="10.90" text-anchor="middle"  >2</text>
<text x="32.6" y="369.7" font-family="'Liberation Serif', serif" font-size="13.70" text-anchor="start"  >(b)</text>
<path d="M462.55,212.45V393.55" stroke="#d6d6d6" stroke-width="1" fill="none"/>
<path d="M322.50,254.24H601.70" stroke="#d6d6d6" stroke-width="1" fill="none"/>
<clipPath id="cp4"><rect x="322.50" y="212.95" width="279.20" height="180.60"/></clipPath>
<g clip-path="url(#cp4)">
<path d="M328.6,254.6L329.6,254.6L330.6,254.6L331.6,254.7L332.6,254.7L333.6,254.7L334.6,254.7L335.6,254.7L336.6,254.7L337.6,254.8L338.6,254.8L339.6,254.8L340.6,254.8L341.6,254.9L342.6,254.9L343.6,254.9L344.6,255.0L345.6,255.0L346.6,255.0L347.6,255.1L348.6,255.1L349.6,255.1L350.6,255.2L351.7,255.2L352.7,255.3L353.7,255.3L354.7,255.4L355.7,255.4L356.7,255.5L357.7,255.5L358.7,255.6L359.7,255.7L360.7,255.8L361.7,255.8L362.7,255.9L363.7,256.0L364.7,256.1L365.7,256.2L366.7,256.3L367.7,256.4L368.7,256.5L369.7,256.7L370.7,256.8L371.7,256.9L372.7,257.1L373.7,257.2L374.7,257.4L375.7,257.6L376.7,257.7L377.7,257.9L378.7,258.1L379.8,258.3L380.8,258.5L381.8,258.8L382.8,259.0L383.8,259.2L384.8,259.5L385.8,259.8L386.8,260.0L387.8,260.3L388.8,260.6L389.8,260.9L390.8,261.2L391.8,261.5L392.8,261.8L393.8,262.2L394.8,262.5L395.8,262.8L396.8,263.2L397.8,263.5L398.8,263.9L399.8,264.3L400.8,264.7L401.8,265.1L402.8,265.5L403.8,265.9L404.8,266.3L405.8,266.7L406.9,267.1L407.9,267.6L408.9,268.1L409.9,268.5L410.9,269.0L411.9,269.5L412.9,270.0L413.9,270.6L414.9,271.1L415.9,271.7L416.9,272.3L417.9,272.9L418.9,273.6L419.9,274.2L420.9,274.9L421.9,275.6L422.9,276.4L423.9,277.2L424.9,278.0L425.9,278.8L426.9,279.7L427.9,280.7L428.9,281.6L429.9,282.6L430.9,283.7L431.9,284.8L432.9,285.9L433.9,287.1L435.0,288.3L436.0,289.6L437.0,291.0L438.0,292.4L439.0,293.8L440.0,295.3L441.0,296.8L442.0,298.4L443.0,300.0L444.0,301.7L445.0,303.4L446.0,305.1L447.0,306.9L448.0,308.6L449.0,310.3L450.0,311.9L451.0,313.4L452.0,314.8L453.0,316.0L454.0,317.2L455.0,318.1L456.0,318.9L457.0,319.6L458.0,320.2L459.0,320.7L460.0,321.0L461.0,321.3L462.0,321.4L463.1,321.4L464.1,321.3L465.1,321.0L466.1,320.7L467.1,320.2L468.1,319.6L469.1,318.9L470.1,318.1L471.1,317.2L472.1,316.0L473.1,314.8L474.1,313.4L475.1,311.9L476.1,310.3L477.1,308.6L478.1,306.9L479.1,305.1L480.1,303.4L481.1,301.7L482.1,300.0L483.1,298.4L484.1,296.8L485.1,295.3L486.1,293.8L487.1,292.4L488.1,291.0L489.1,289.6L490.1,288.3L491.2,287.1L492.2,285.9L493.2,284.8L494.2,283.7L495.2,282.6L496.2,281.6L497.2,280.7L498.2,279.7L499.2,278.8L500.2,278.0L501.2,277.2L502.2,276.4L503.2,275.6L504.2,274.9L505.2,274.2L506.2,273.6L507.2,272.9L508.2,272.3L509.2,271.7L510.2,271.1L511.2,270.6L512.2,270.0L513.2,269.5L514.2,269.0L515.2,268.5L516.2,268.1L517.2,267.6L518.2,267.1L519.3,266.7L520.3,266.3L521.3,265.9L522.3,265.5L523.3,265.1L524.3,264.7L525.3,264.3L526.3,263.9L527.3,263.5L528.3,263.2L529.3,262.8L530.3,262.5L531.3,262.2L532.3,261.8L533.3,261.5L534.3,261.2L535.3,260.9L536.3,260.6L537.3,260.3L538.3,260.0L539.3,259.8L540.3,259.5L541.3,259.2L542.3,259.0L543.3,258.8L544.3,258.5L545.3,258.3L546.4,258.1L547.4,257.9L548.4,257.7L549.4,257.6L550.4,257.4L551.4,257.2L552.4,257.1L553.4,256.9L554.4,256.8L555.4,256.7L556.4,256.5L557.4,256.4L558.4,256.3L559.4,256.2L560.4,256.1L561.4,256.0L562.4,255.9L563.4,255.8L564.4,255.8L565.4,255.7L566.4,255.6L567.4,255.5L568.4,255.5L569.4,255.4L570.4,255.4L571.4,255.3L572.4,255.3L573.4,255.2L574.5,255.2L575.5,255.1L576.5,255.1L577.5,255.1L578.5,255.0L579.5,255.0L580.5,255.0L581.5,254.9L582.5,254.9L583.5,254.9L584.5,254.8L585.5,254.8L586.5,254.8L587.5,254.8L588.5,254.7L589.5,254.7L590.5,254.7L591.5,254.7L592.5,254.7L593.5,254.7L594.5,254.6L595.5,254.6L596.5,254.6" fill="none" stroke="#ff7f7f" stroke-width="7.00" stroke-linecap="square" stroke-linejoin="round"/>
<path d="M328.6,255.0L329.6,255.0L330.6,255.0L331.6,255.1L332.6,255.1L333.6,255.1L334.6,255.2L335.6,255.2L336.6,255.3L337.6,255.3L338.6,255.3L339.6,255.4L340.6,255.4L341.6,255.5L342.6,255.5L343.6,255.6L344.6,255.7L345.6,255.7L346.6,255.8L347.6,255.9L348.6,255.9L349.6,256.0L350.6,256.1L351.7,256.2L352.7,256.3L353.7,256.4L354.7,256.5L355.7,256.6L356.7,256.7L357.7,256.9L358.7,257.0L359.7,257.1L360.7,257.3L361.7,257.4L362.7,257.6L363.7,257.8L364.7,258.0L365.7,258.2L366.7,258.4L367.7,258.6L368.7,258.8L369.7,259.1L370.7,259.3L371.7,259.6L372.7,259.9L373.7,260.2L374.7,260.5L375.7,260.9L376.7,261.2L377.7,261.6L378.7,262.0L379.8,262.4L380.8,262.8L381.8,263.3L382.8,263.8L383.8,264.3L384.8,264.8L385.8,265.3L386.8,265.8L387.8,266.4L388.8,267.0L389.8,267.6L390.8,268.2L391.8,268.8L392.8,269.4L393.8,270.1L394.8,270.8L395.8,271.5L396.8,272.2L397.8,272.9L398.8,273.6L399.8,274.4L400.8,275.1L401.8,275.9L402.8,276.7L403.8,277.5L404.8,278.4L405.8,279.2L406.9,280.1L407.9,281.0L408.9,281.9L409.9,282.8L410.9,283.8L411.9,284.8L412.9,285.9L413.9,286.9L414.9,288.0L415.9,289.2L416.9,290.4L417.9,291.6L418.9,292.9L419.9,294.2L420.9,295.6L421.9,297.0L422.9,298.5L423.9,300.1L424.9,301.7L425.9,303.4L426.9,305.2L427.9,307.0L428.9,308.9L429.9,310.9L430.9,313.0L431.9,315.2L432.9,317.4L433.9,319.8L435.0,322.2L436.0,324.7L437.0,327.3L438.0,330.0L439.0,332.8L440.0,335.7L441.0,338.6L442.0,341.7L443.0,344.8L444.0,347.9L445.0,351.1L446.0,354.4L447.0,357.6L448.0,360.9L449.0,364.1L450.0,367.2L451.0,370.2L452.0,373.0L453.0,375.7L454.0,378.2L455.0,380.4L456.0,382.4L457.0,384.2L458.0,385.7L459.0,386.9L460.0,387.8L461.0,388.5L462.0,388.8L463.1,388.8L464.1,388.5L465.1,387.8L466.1,386.9L467.1,385.7L468.1,384.2L469.1,382.4L470.1,380.4L471.1,378.2L472.1,375.7L473.1,373.0L474.1,370.2L475.1,367.2L476.1,364.1L477.1,360.9L478.1,357.6L479.1,354.4L480.1,351.1L481.1,347.9L482.1,344.8L483.1,341.7L484.1,338.6L485.1,335.7L486.1,332.8L487.1,330.0L488.1,327.3L489.1,324.7L490.1,322.2L491.2,319.8L492.2,317.4L493.2,315.2L494.2,313.0L495.2,310.9L496.2,308.9L497.2,307.0L498.2,305.2L499.2,303.4L500.2,301.7L501.2,300.1L502.2,298.5L503.2,297.0L504.2,295.6L505.2,294.2L506.2,292.9L507.2,291.6L508.2,290.4L509.2,289.2L510.2,288.0L511.2,286.9L512.2,285.9L513.2,284.8L514.2,283.8L515.2,282.8L516.2,281.9L517.2,281.0L518.2,280.1L519.3,279.2L520.3,278.4L521.3,277.5L522.3,276.7L523.3,275.9L524.3,275.1L525.3,274.4L526.3,273.6L527.3,272.9L528.3,272.2L529.3,271.5L530.3,270.8L531.3,270.1L532.3,269.4L533.3,268.8L534.3,268.2L535.3,267.6L536.3,267.0L537.3,266.4L538.3,265.8L539.3,265.3L540.3,264.8L541.3,264.3L542.3,263.8L543.3,263.3L544.3,262.8L545.3,262.4L546.4,262.0L547.4,261.6L548.4,261.2L549.4,260.9L550.4,260.5L551.4,260.2L552.4,259.9L553.4,259.6L554.4,259.3L555.4,259.1L556.4,258.8L557.4,258.6L558.4,258.4L559.4,258.2L560.4,258.0L561.4,257.8L562.4,257.6L563.4,257.4L564.4,257.3L565.4,257.1L566.4,257.0L567.4,256.9L568.4,256.7L569.4,256.6L570.4,256.5L571.4,256.4L572.4,256.3L573.4,256.2L574.5,256.1L575.5,256.0L576.5,255.9L577.5,255.9L578.5,255.8L579.5,255.7L580.5,255.7L581.5,255.6L582.5,255.5L583.5,255.5L584.5,255.4L585.5,255.4L586.5,255.3L587.5,255.3L588.5,255.3L589.5,255.2L590.5,255.2L591.5,255.1L592.5,255.1L593.5,255.1L594.5,255.0L595.5,255.0L596.5,255.0" fill="none" stroke="#bebeff" stroke-width="4.70" stroke-linecap="square" stroke-linejoin="round"/>
<path d="M328.6,254.6L329.6,254.6L330.6,254.6L331.6,254.7L332.6,254.7L333.6,254.7L334.6,254.7L335.6,254.7L336.6,254.7L337.6,254.8L338.6,254.8L339.6,254.8L340.6,254.8L341.6,254.9L342.6,254.9L343.6,254.9L344.6,255.0L345.6,255.0L346.6,255.0L347.6,255.1L348.6,255.1L349.6,255.1L350.6,255.2L351.7,255.2L352.7,255.3L353.7,255.3L354.7,255.4L355.7,255.4L356.7,255.5L357.7,255.5L358.7,255.6L359.7,255.7L360.7,255.8L361.7,255.8L362.7,255.9L363.7,256.0L364.7,256.1L365.7,256.2L366.7,256.3L367.7,256.4L368.7,256.5L369.7,256.7L370.7,256.8L371.7,256.9L372.7,257.1L373.7,257.2L374.7,257.4L375.7,257.6L376.7,257.7L377.7,257.9L378.7,258.1L379.8,258.3L380.8,258.5L381.8,258.8L382.8,259.0L383.8,259.2L384.8,259.5L385.8,259.8L386.8,260.0L387.8,260.3L388.8,260.6L389.8,260.9L390.8,261.2L391.8,261.5L392.8,261.8L393.8,262.2L394.8,262.5L395.8,262.8L396.8,263.2L397.8,263.5L398.8,263.9L399.8,264.3L400.8,264.7L401.8,265.1L402.8,265.5L403.8,265.9L404.8,266.3L405.8,266.7L406.9,267.1L407.9,267.6L408.9,268.1L409.9,268.5L410.9,269.0L411.9,269.5L412.9,270.0L413.9,270.6L414.9,271.1L415.9,271.7L416.9,272.3L417.9,272.9L418.9,273.6L419.9,274.2L420.9,274.9L421.9,275.6L422.9,276.4L423.9,277.2L424.9,278.0L425.9,278.8L426.9,279.7L427.9,280.7L428.9,281.6L429.9,282.6L430.9,283.7L431.9,284.8L432.9,285.9L433.9,287.1L435.0,288.3L436.0,289.6L437.0,291.0L438.0,292.4L439.0,293.8L440.0,295.3L441.0,296.8L442.0,298.4L443.0,300.0L444.0,301.7L445.0,303.4L446.0,305.1L447.0,306.9L448.0,308.6L449.0,310.3L450.0,311.9L451.0,313.4L452.0,314.8L453.0,316.0L454.0,317.2L455.0,318.1L456.0,318.9L457.0,319.6L458.0,320.2L459.0,320.7L460.0,321.0L461.0,321.3L462.0,321.4L463.1,321.4L464.1,321.3L465.1,321.0L466.1,320.7L467.1,320.2L468.1,319.6L469.1,318.9L470.1,318.1L471.1,317.2L472.1,316.0L473.1,314.8L474.1,313.4L475.1,311.9L476.1,310.3L477.1,308.6L478.1,306.9L479.1,305.1L480.1,303.4L481.1,301.7L482.1,300.0L483.1,298.4L484.1,296.8L485.1,295.3L486.1,293.8L487.1,292.4L488.1,291.0L489.1,289.6L490.1,288.3L491.2,287.1L492.2,285.9L493.2,284.8L494.2,283.7L495.2,282.6L496.2,281.6L497.2,280.7L498.2,279.7L499.2,278.8L500.2,278.0L501.2,277.2L502.2,276.4L503.2,275.6L504.2,274.9L505.2,274.2L506.2,273.6L507.2,272.9L508.2,272.3L509.2,271.7L510.2,271.1L511.2,270.6L512.2,270.0L513.2,269.5L514.2,269.0L515.2,268.5L516.2,268.1L517.2,267.6L518.2,267.1L519.3,266.7L520.3,266.3L521.3,265.9L522.3,265.5L523.3,265.1L524.3,264.7L525.3,264.3L526.3,263.9L527.3,263.5L528.3,263.2L529.3,262.8L530.3,262.5L531.3,262.2L532.3,261.8L533.3,261.5L534.3,261.2L535.3,260.9L536.3,260.6L537.3,260.3L538.3,260.0L539.3,259.8L540.3,259.5L541.3,259.2L542.3,259.0L543.3,258.8L544.3,258.5L545.3,258.3L546.4,258.1L547.4,257.9L548.4,257.7L549.4,257.6L550.4,257.4L551.4,257.2L552.4,257.1L553.4,256.9L554.4,256.8L555.4,256.7L556.4,256.5L557.4,256.4L558.4,256.3L559.4,256.2L560.4,256.1L561.4,256.0L562.4,255.9L563.4,255.8L564.4,255.8L565.4,255.7L566.4,255.6L567.4,255.5L568.4,255.5L569.4,255.4L570.4,255.4L571.4,255.3L572.4,255.3L573.4,255.2L574.5,255.2L575.5,255.1L576.5,255.1L577.5,255.1L578.5,255.0L579.5,255.0L580.5,255.0L581.5,254.9L582.5,254.9L583.5,254.9L584.5,254.8L585.5,254.8L586.5,254.8L587.5,254.8L588.5,254.7L589.5,254.7L590.5,254.7L591.5,254.7L592.5,254.7L593.5,254.7L594.5,254.6L595.5,254.6L596.5,254.6" fill="none" stroke="#cce7c6" stroke-width="4.50" stroke-linecap="square" stroke-linejoin="round"/>
<path d="M328.6,254.6L329.6,254.6L330.6,254.6L331.6,254.7L332.6,254.7L333.6,254.7L334.6,254.7L335.6,254.7L336.6,254.7L337.6,254.8L338.6,254.8L339.6,254.8L340.6,254.8L341.6,254.9L342.6,254.9L343.6,254.9L344.6,255.0L345.6,255.0L346.6,255.0L347.6,255.1L348.6,255.1L349.6,255.1L350.6,255.2L351.7,255.2L352.7,255.3L353.7,255.3L354.7,255.4L355.7,255.4L356.7,255.5L357.7,255.5L358.7,255.6L359.7,255.7L360.7,255.8L361.7,255.8L362.7,255.9L363.7,256.0L364.7,256.1L365.7,256.2L366.7,256.3L367.7,256.4L368.7,256.5L369.7,256.7L370.7,256.8L371.7,256.9L372.7,257.1L373.7,257.2L374.7,257.4L375.7,257.6L376.7,257.7L377.7,257.9L378.7,258.1L379.8,258.3L380.8,258.5L381.8,258.8L382.8,259.0L383.8,259.2L384.8,259.5L385.8,259.8L386.8,260.0L387.8,260.3L388.8,260.6L389.8,260.9L390.8,261.2L391.8,261.5L392.8,261.8L393.8,262.2L394.8,262.5L395.8,262.8L396.8,263.2L397.8,263.5L398.8,263.9L399.8,264.3L400.8,264.7L401.8,265.1L402.8,265.5L403.8,265.9L404.8,266.3L405.8,266.7L406.9,267.1L407.9,267.6L408.9,268.1L409.9,268.5L410.9,269.0L411.9,269.5L412.9,270.0L413.9,270.6L414.9,271.1L415.9,271.7L416.9,272.3L417.9,272.9L418.9,273.6L419.9,274.2L420.9,274.9L421.9,275.6L422.9,276.4L423.9,277.2L424.9,278.0L425.9,278.8L426.9,279.7L427.9,280.7L428.9,281.6L429.9,282.6L430.9,283.7L431.9,284.8L432.9,285.9L433.9,287.1L435.0,288.3L436.0,289.6L437.0,291.0L438.0,292.4L439.0,293.8L440.0,295.3L441.0,296.8L442.0,298.4L443.0,300.0L444.0,301.7L445.0,303.4L446.0,305.1L447.0,306.9L448.0,308.6L449.0,310.3L450.0,311.9L451.0,313.4L452.0,314.8L453.0,316.0L454.0,317.2L455.0,318.1L456.0,318.9L457.0,319.6L458.0,320.2L459.0,320.7L460.0,321.0L461.0,321.3L462.0,321.4L463.1,321.4L464.1,321.3L465.1,321.0L466.1,320.7L467.1,320.2L468.1,319.6L469.1,318.9L470.1,318.1L471.1,317.2L472.1,316.0L473.1,314.8L474.1,313.4L475.1,311.9L476.1,310.3L477.1,308.6L478.1,306.9L479.1,305.1L480.1,303.4L481.1,301.7L482.1,300.0L483.1,298.4L484.1,296.8L485.1,295.3L486.1,293.8L487.1,292.4L488.1,291.0L489.1,289.6L490.1,288.3L491.2,287.1L492.2,285.9L493.2,284.8L494.2,283.7L495.2,282.6L496.2,281.6L497.2,280.7L498.2,279.7L499.2,278.8L500.2,278.0L501.2,277.2L502.2,276.4L503.2,275.6L504.2,274.9L505.2,274.2L506.2,273.6L507.2,272.9L508.2,272.3L509.2,271.7L510.2,271.1L511.2,270.6L512.2,270.0L513.2,269.5L514.2,269.0L515.2,268.5L516.2,268.1L517.2,267.6L518.2,267.1L519.3,266.7L520.3,266.3L521.3,265.9L522.3,265.5L523.3,265.1L524.3,264.7L525.3,264.3L526.3,263.9L527.3,263.5L528.3,263.2L529.3,262.8L530.3,262.5L531.3,262.2L532.3,261.8L533.3,261.5L534.3,261.2L535.3,260.9L536.3,260.6L537.3,260.3L538.3,260.0L539.3,259.8L540.3,259.5L541.3,259.2L542.3,259.0L543.3,258.8L544.3,258.5L545.3,258.3L546.4,258.1L547.4,257.9L548.4,257.7L549.4,257.6L550.4,257.4L551.4,257.2L552.4,257.1L553.4,256.9L554.4,256.8L555.4,256.7L556.4,256.5L557.4,256.4L558.4,256.3L559.4,256.2L560.4,256.1L561.4,256.0L562.4,255.9L563.4,255.8L564.4,255.8L565.4,255.7L566.4,255.6L567.4,255.5L568.4,255.5L569.4,255.4L570.4,255.4L571.4,255.3L572.4,255.3L573.4,255.2L574.5,255.2L575.5,255.1L576.5,255.1L577.5,255.1L578.5,255.0L579.5,255.0L580.5,255.0L581.5,254.9L582.5,254.9L583.5,254.9L584.5,254.8L585.5,254.8L586.5,254.8L587.5,254.8L588.5,254.7L589.5,254.7L590.5,254.7L591.5,254.7L592.5,254.7L593.5,254.7L594.5,254.6L595.5,254.6L596.5,254.6" fill="none" stroke="#8b0000" stroke-width="1.70" stroke-dasharray="15 4" stroke-dashoffset="0.0" stroke-linecap="round" stroke-linejoin="round"/>
<path d="M401.65,265.49V254.14" fill="none" stroke="#8b0000" stroke-width="1.70" stroke-linecap="butt"/>
<path d="M523.45,265.49V254.14" fill="none" stroke="#8b0000" stroke-width="1.70" stroke-linecap="butt"/>
<path d="M328.6,255.0L329.6,255.0L330.6,255.0L331.6,255.1L332.6,255.1L333.6,255.1L334.6,255.2L335.6,255.2L336.6,255.3L337.6,255.3L338.6,255.3L339.6,255.4L340.6,255.4L341.6,255.5L342.6,255.5L343.6,255.6L344.6,255.7L345.6,255.7L346.6,255.8L347.6,255.9L348.6,255.9L349.6,256.0L350.6,256.1L351.7,256.2L352.7,256.3L353.7,256.4L354.7,256.5L355.7,256.6L356.7,256.7L357.7,256.9L358.7,257.0L359.7,257.1L360.7,257.3L361.7,257.4L362.7,257.6L363.7,257.8L364.7,258.0L365.7,258.2L366.7,258.4L367.7,258.6L368.7,258.8L369.7,259.1L370.7,259.3L371.7,259.6L372.7,259.9L373.7,260.2L374.7,260.5L375.7,260.9L376.7,261.2L377.7,261.6L378.7,262.0L379.8,262.4L380.8,262.8L381.8,263.3L382.8,263.8L383.8,264.3L384.8,264.8L385.8,265.3L386.8,265.8L387.8,266.4L388.8,267.0L389.8,267.6L390.8,268.2L391.8,268.8L392.8,269.4L393.8,270.1L394.8,270.8L395.8,271.5L396.8,272.2L397.8,272.9L398.8,273.6L399.8,274.4L400.8,275.1L401.8,275.9L402.8,276.7L403.8,277.5L404.8,278.4L405.8,279.2L406.9,280.1L407.9,281.0L408.9,281.9L409.9,282.8L410.9,283.8L411.9,284.8L412.9,285.9L413.9,286.9L414.9,288.0L415.9,289.2L416.9,290.4L417.9,291.6L418.9,292.9L419.9,294.2L420.9,295.6L421.9,297.0L422.9,298.5L423.9,300.1L424.9,301.7L425.9,303.4L426.9,305.2L427.9,307.0L428.9,308.9L429.9,310.9L430.9,313.0L431.9,315.2L432.9,317.4L433.9,319.8L435.0,322.2L436.0,324.7L437.0,327.3L438.0,330.0L439.0,332.8L440.0,335.7L441.0,338.6L442.0,341.7L443.0,344.8L444.0,347.9L445.0,351.1L446.0,354.4L447.0,357.6L448.0,360.9L449.0,364.1L450.0,367.2L451.0,370.2L452.0,373.0L453.0,375.7L454.0,378.2L455.0,380.4L456.0,382.4L457.0,384.2L458.0,385.7L459.0,386.9L460.0,387.8L461.0,388.5L462.0,388.8L463.1,388.8L464.1,388.5L465.1,387.8L466.1,386.9L467.1,385.7L468.1,384.2L469.1,382.4L470.1,380.4L471.1,378.2L472.1,375.7L473.1,373.0L474.1,370.2L475.1,367.2L476.1,364.1L477.1,360.9L478.1,357.6L479.1,354.4L480.1,351.1L481.1,347.9L482.1,344.8L483.1,341.7L484.1,338.6L485.1,335.7L486.1,332.8L487.1,330.0L488.1,327.3L489.1,324.7L490.1,322.2L491.2,319.8L492.2,317.4L493.2,315.2L494.2,313.0L495.2,310.9L496.2,308.9L497.2,307.0L498.2,305.2L499.2,303.4L500.2,301.7L501.2,300.1L502.2,298.5L503.2,297.0L504.2,295.6L505.2,294.2L506.2,292.9L507.2,291.6L508.2,290.4L509.2,289.2L510.2,288.0L511.2,286.9L512.2,285.9L513.2,284.8L514.2,283.8L515.2,282.8L516.2,281.9L517.2,281.0L518.2,280.1L519.3,279.2L520.3,278.4L521.3,277.5L522.3,276.7L523.3,275.9L524.3,275.1L525.3,274.4L526.3,273.6L527.3,272.9L528.3,272.2L529.3,271.5L530.3,270.8L531.3,270.1L532.3,269.4L533.3,268.8L534.3,268.2L535.3,267.6L536.3,267.0L537.3,266.4L538.3,265.8L539.3,265.3L540.3,264.8L541.3,264.3L542.3,263.8L543.3,263.3L544.3,262.8L545.3,262.4L546.4,262.0L547.4,261.6L548.4,261.2L549.4,260.9L550.4,260.5L551.4,260.2L552.4,259.9L553.4,259.6L554.4,259.3L555.4,259.1L556.4,258.8L557.4,258.6L558.4,258.4L559.4,258.2L560.4,258.0L561.4,257.8L562.4,257.6L563.4,257.4L564.4,257.3L565.4,257.1L566.4,257.0L567.4,256.9L568.4,256.7L569.4,256.6L570.4,256.5L571.4,256.4L572.4,256.3L573.4,256.2L574.5,256.1L575.5,256.0L576.5,255.9L577.5,255.9L578.5,255.8L579.5,255.7L580.5,255.7L581.5,255.6L582.5,255.5L583.5,255.5L584.5,255.4L585.5,255.4L586.5,255.3L587.5,255.3L588.5,255.3L589.5,255.2L590.5,255.2L591.5,255.1L592.5,255.1L593.5,255.1L594.5,255.0L595.5,255.0L596.5,255.0" fill="none" stroke="#000094" stroke-width="1.70" stroke-dasharray="15 4 3.6 4" stroke-dashoffset="0.0" stroke-linecap="round" stroke-linejoin="round"/>
<path d="M401.65,276.27V254.14" fill="none" stroke="#000094" stroke-width="1.70" stroke-linecap="butt"/>
<path d="M523.45,276.27V254.14" fill="none" stroke="#000094" stroke-width="1.70" stroke-linecap="butt"/>
<path d="M328.6,254.6L329.6,254.6L330.6,254.6L331.6,254.7L332.6,254.7L333.6,254.7L334.6,254.7L335.6,254.7L336.6,254.7L337.6,254.8L338.6,254.8L339.6,254.8L340.6,254.8L341.6,254.9L342.6,254.9L343.6,254.9L344.6,255.0L345.6,255.0L346.6,255.0L347.6,255.1L348.6,255.1L349.6,255.1L350.6,255.2L351.7,255.2L352.7,255.3L353.7,255.3L354.7,255.4L355.7,255.4L356.7,255.5L357.7,255.5L358.7,255.6L359.7,255.7L360.7,255.8L361.7,255.8L362.7,255.9L363.7,256.0L364.7,256.1L365.7,256.2L366.7,256.3L367.7,256.4L368.7,256.5L369.7,256.7L370.7,256.8L371.7,256.9L372.7,257.1L373.7,257.2L374.7,257.4L375.7,257.6L376.7,257.7L377.7,257.9L378.7,258.1L379.8,258.3L380.8,258.5L381.8,258.8L382.8,259.0L383.8,259.2L384.8,259.5L385.8,259.8L386.8,260.0L387.8,260.3L388.8,260.6L389.8,260.9L390.8,261.2L391.8,261.5L392.8,261.8L393.8,262.2L394.8,262.5L395.8,262.8L396.8,263.2L397.8,263.5L398.8,263.9L399.8,264.3L400.8,264.7L401.8,265.1L402.8,265.5L403.8,265.9L404.8,266.3L405.8,266.7L406.9,267.1L407.9,267.6L408.9,268.1L409.9,268.5L410.9,269.0L411.9,269.5L412.9,270.0L413.9,270.6L414.9,271.1L415.9,271.7L416.9,272.3L417.9,272.9L418.9,273.6L419.9,274.2L420.9,274.9L421.9,275.6L422.9,276.4L423.9,277.2L424.9,278.0L425.9,278.8L426.9,279.7L427.9,280.7L428.9,281.6L429.9,282.6L430.9,283.7L431.9,284.8L432.9,285.9L433.9,287.1L435.0,288.3L436.0,289.6L437.0,291.0L438.0,292.4L439.0,293.8L440.0,295.3L441.0,296.8L442.0,298.4L443.0,300.0L444.0,301.7L445.0,303.4L446.0,305.1L447.0,306.9L448.0,308.6L449.0,310.3L450.0,311.9L451.0,313.4L452.0,314.8L453.0,316.0L454.0,317.2L455.0,318.1L456.0,318.9L457.0,319.6L458.0,320.2L459.0,320.7L460.0,321.0L461.0,321.3L462.0,321.4L463.1,321.4L464.1,321.3L465.1,321.0L466.1,320.7L467.1,320.2L468.1,319.6L469.1,318.9L470.1,318.1L471.1,317.2L472.1,316.0L473.1,314.8L474.1,313.4L475.1,311.9L476.1,310.3L477.1,308.6L478.1,306.9L479.1,305.1L480.1,303.4L481.1,301.7L482.1,300.0L483.1,298.4L484.1,296.8L485.1,295.3L486.1,293.8L487.1,292.4L488.1,291.0L489.1,289.6L490.1,288.3L491.2,287.1L492.2,285.9L493.2,284.8L494.2,283.7L495.2,282.6L496.2,281.6L497.2,280.7L498.2,279.7L499.2,278.8L500.2,278.0L501.2,277.2L502.2,276.4L503.2,275.6L504.2,274.9L505.2,274.2L506.2,273.6L507.2,272.9L508.2,272.3L509.2,271.7L510.2,271.1L511.2,270.6L512.2,270.0L513.2,269.5L514.2,269.0L515.2,268.5L516.2,268.1L517.2,267.6L518.2,267.1L519.3,266.7L520.3,266.3L521.3,265.9L522.3,265.5L523.3,265.1L524.3,264.7L525.3,264.3L526.3,263.9L527.3,263.5L528.3,263.2L529.3,262.8L530.3,262.5L531.3,262.2L532.3,261.8L533.3,261.5L534.3,261.2L535.3,260.9L536.3,260.6L537.3,260.3L538.3,260.0L539.3,259.8L540.3,259.5L541.3,259.2L542.3,259.0L543.3,258.8L544.3,258.5L545.3,258.3L546.4,258.1L547.4,257.9L548.4,257.7L549.4,257.6L550.4,257.4L551.4,257.2L552.4,257.1L553.4,256.9L554.4,256.8L555.4,256.7L556.4,256.5L557.4,256.4L558.4,256.3L559.4,256.2L560.4,256.1L561.4,256.0L562.4,255.9L563.4,255.8L564.4,255.8L565.4,255.7L566.4,255.6L567.4,255.5L568.4,255.5L569.4,255.4L570.4,255.4L571.4,255.3L572.4,255.3L573.4,255.2L574.5,255.2L575.5,255.1L576.5,255.1L577.5,255.1L578.5,255.0L579.5,255.0L580.5,255.0L581.5,254.9L582.5,254.9L583.5,254.9L584.5,254.8L585.5,254.8L586.5,254.8L587.5,254.8L588.5,254.7L589.5,254.7L590.5,254.7L591.5,254.7L592.5,254.7L593.5,254.7L594.5,254.6L595.5,254.6L596.5,254.6" fill="none" stroke="#2c5c23" stroke-width="1.60" stroke-dasharray="3.7 5.8" stroke-dashoffset="0.0" stroke-linecap="round" stroke-linejoin="round"/>
<path d="M401.65,265.49V254.14" fill="none" stroke="#2c5c23" stroke-width="1.10" stroke-linecap="butt"/>
<path d="M523.45,265.49V254.14" fill="none" stroke="#2c5c23" stroke-width="1.10" stroke-linecap="butt"/>
</g>
<clipPath id="ci5"><rect x="511.25" y="284.10" width="87.90" height="86.10"/></clipPath>
<path d="M511.75,308.75H598.25" stroke="#d6d6d6" stroke-width="1" fill="none"/>
<g clip-path="url(#ci5)">
<path d="M511.75,328.64H599.05" stroke="#ff7f7f" stroke-width="6.60" fill="none"/>
<path d="M511.75,348.28H599.05" stroke="#bebeff" stroke-width="3.90" fill="none"/>
<path d="M511.75,328.64H599.05" stroke="#cce7c6" stroke-width="4.20" fill="none"/>
<path d="M513.4,328.0L513.9,328.0L514.4,328.0L514.9,328.0L515.4,327.9L515.9,327.9L516.4,327.9L516.9,327.9L517.4,327.9L517.9,327.9L518.4,327.9L518.9,327.9L519.4,327.9L519.9,327.9L520.4,327.9L520.9,327.9L521.4,327.9L521.9,327.9L522.4,327.9L522.9,327.8L523.4,327.8L523.9,327.8L524.4,327.8L524.9,327.8L525.4,327.8L525.9,327.8L526.4,327.8L526.9,327.8L527.4,327.7L527.9,327.7L528.4,327.7L528.9,327.7L529.4,327.7L529.9,327.7L530.4,327.6L530.9,327.6L531.4,327.6L531.9,327.6L532.4,327.6L532.9,327.5L533.4,327.5L533.9,327.5L534.4,327.4L534.9,327.4L535.4,327.4L535.9,327.3L536.4,327.3L536.9,327.2L537.4,327.2L537.9,327.1L538.4,327.1L538.9,327.0L539.4,326.9L539.9,326.9L540.4,326.8L540.9,326.7L541.4,326.6L541.9,326.5L542.4,326.4L542.9,326.2L543.4,326.1L543.9,325.9L544.4,325.7L544.9,325.5L545.4,325.3L545.9,325.0L546.4,324.7L546.9,324.3L547.4,323.9L547.9,323.5L548.4,322.9L548.9,322.3L549.4,321.6L549.9,320.8L550.4,319.8L550.9,318.7L551.4,317.4L551.9,316.0L552.4,314.5L552.9,312.9L553.4,311.4L553.9,310.1L554.4,309.2L554.9,308.8L555.4,308.9L555.9,309.7L556.4,310.9L556.9,312.3L557.4,313.9L557.9,315.4L558.4,316.9L558.9,318.2L559.4,319.4L559.9,320.4L560.4,321.3L560.9,322.0L561.4,322.7L561.9,323.3L562.4,323.8L562.9,324.2L563.4,324.6L563.9,324.9L564.4,325.2L564.9,325.4L565.4,325.6L565.9,325.8L566.4,326.0L566.9,326.2L567.4,326.3L567.9,326.4L568.4,326.6L568.9,326.7L569.4,326.8L569.9,326.8L570.4,326.9L570.9,327.0L571.4,327.1L571.9,327.1L572.4,327.2L572.9,327.2L573.4,327.3L573.9,327.3L574.4,327.4L574.9,327.4L575.4,327.4L575.9,327.5L576.4,327.5L576.9,327.5L577.4,327.5L577.9,327.6L578.4,327.6L578.9,327.6L579.4,327.6L579.9,327.7L580.4,327.7L580.9,327.7L581.4,327.7L581.9,327.7L582.4,327.7L582.9,327.8L583.4,327.8L583.9,327.8L584.4,327.8L584.9,327.8L585.4,327.8L585.9,327.8L586.4,327.8L586.9,327.8L587.4,327.9L587.9,327.9L588.4,327.9L588.9,327.9L589.4,327.9L589.9,327.9L590.4,327.9L590.9,327.9L591.4,327.9L591.9,327.9L592.4,327.9L592.9,327.9L593.4,327.9L593.9,327.9L594.4,327.9L594.9,328.0L595.4,328.0L595.9,328.0L596.4,328.0L596.9,328.0L597.4,328.0" fill="none" stroke="#8b0000" stroke-width="1.60" stroke-dasharray="15 4" stroke-dashoffset="0.0" stroke-linecap="round" stroke-linejoin="round"/>
<path d="M513.4,346.9L513.9,346.9L514.4,346.9L514.9,346.9L515.4,346.9L515.9,346.9L516.4,346.9L516.9,346.9L517.4,346.9L517.9,346.9L518.4,346.8L518.9,346.8L519.4,346.8L519.9,346.8L520.4,346.8L520.9,346.8L521.4,346.8L521.9,346.7L522.4,346.7L522.9,346.7L523.4,346.7L523.9,346.7L524.4,346.6L524.9,346.6L525.4,346.6L525.9,346.6L526.4,346.6L526.9,346.5L527.4,346.5L527.9,346.5L528.4,346.4L528.9,346.4L529.4,346.4L529.9,346.3L530.4,346.3L530.9,346.3L531.4,346.2L531.9,346.2L532.4,346.1L532.9,346.1L533.4,346.0L533.9,346.0L534.4,345.9L534.9,345.8L535.4,345.8L535.9,345.7L536.4,345.6L536.9,345.5L537.4,345.4L537.9,345.3L538.4,345.2L538.9,345.1L539.4,344.9L539.9,344.8L540.4,344.6L540.9,344.4L541.4,344.2L541.9,344.0L542.4,343.8L542.9,343.5L543.4,343.2L543.9,342.9L544.4,342.5L544.9,342.1L545.4,341.6L545.9,341.1L546.4,340.4L546.9,339.7L547.4,338.9L547.9,338.0L548.4,336.9L548.9,335.7L549.4,334.3L549.9,332.6L550.4,330.7L550.9,328.5L551.4,326.0L551.9,323.2L552.4,320.2L552.9,317.1L553.4,314.1L553.9,311.5L554.4,309.6L554.9,308.8L555.4,309.1L555.9,310.6L556.4,313.0L556.9,315.8L557.4,319.0L557.9,322.0L558.4,324.9L558.9,327.5L559.4,329.9L559.9,331.9L560.4,333.6L560.9,335.2L561.4,336.5L561.9,337.6L562.4,338.6L562.9,339.4L563.4,340.2L563.9,340.8L564.4,341.4L564.9,341.9L565.4,342.3L565.9,342.7L566.4,343.1L566.9,343.4L567.4,343.7L567.9,343.9L568.4,344.1L568.9,344.3L569.4,344.5L569.9,344.7L570.4,344.9L570.9,345.0L571.4,345.1L571.9,345.2L572.4,345.4L572.9,345.5L573.4,345.6L573.9,345.6L574.4,345.7L574.9,345.8L575.4,345.9L575.9,345.9L576.4,346.0L576.9,346.0L577.4,346.1L577.9,346.2L578.4,346.2L578.9,346.2L579.4,346.3L579.9,346.3L580.4,346.4L580.9,346.4L581.4,346.4L581.9,346.5L582.4,346.5L582.9,346.5L583.4,346.5L583.9,346.6L584.4,346.6L584.9,346.6L585.4,346.6L585.9,346.7L586.4,346.7L586.9,346.7L587.4,346.7L587.9,346.7L588.4,346.7L588.9,346.8L589.4,346.8L589.9,346.8L590.4,346.8L590.9,346.8L591.4,346.8L591.9,346.8L592.4,346.9L592.9,346.9L593.4,346.9L593.9,346.9L594.4,346.9L594.9,346.9L595.4,346.9L595.9,346.9L596.4,346.9L596.9,346.9L597.4,347.0" fill="none" stroke="#000094" stroke-width="1.60" stroke-dasharray="15 4 3.6 4" stroke-dashoffset="0.0" stroke-linecap="round" stroke-linejoin="round"/>
<path d="M513.4,328.0L513.9,328.0L514.4,328.0L514.9,328.0L515.4,327.9L515.9,327.9L516.4,327.9L516.9,327.9L517.4,327.9L517.9,327.9L518.4,327.9L518.9,327.9L519.4,327.9L519.9,327.9L520.4,327.9L520.9,327.9L521.4,327.9L521.9,327.9L522.4,327.9L522.9,327.8L523.4,327.8L523.9,327.8L524.4,327.8L524.9,327.8L525.4,327.8L525.9,327.8L526.4,327.8L526.9,327.8L527.4,327.7L527.9,327.7L528.4,327.7L528.9,327.7L529.4,327.7L529.9,327.7L530.4,327.6L530.9,327.6L531.4,327.6L531.9,327.6L532.4,327.6L532.9,327.5L533.4,327.5L533.9,327.5L534.4,327.4L534.9,327.4L535.4,327.4L535.9,327.3L536.4,327.3L536.9,327.2L537.4,327.2L537.9,327.1L538.4,327.1L538.9,327.0L539.4,326.9L539.9,326.9L540.4,326.8L540.9,326.7L541.4,326.6L541.9,326.5L542.4,326.4L542.9,326.2L543.4,326.1L543.9,325.9L544.4,325.7L544.9,325.5L545.4,325.3L545.9,325.0L546.4,324.7L546.9,324.3L547.4,323.9L547.9,323.5L548.4,322.9L548.9,322.3L549.4,321.6L549.9,320.8L550.4,319.8L550.9,318.7L551.4,317.4L551.9,316.0L552.4,314.5L552.9,312.9L553.4,311.4L553.9,310.1L554.4,309.2L554.9,308.8L555.4,308.9L555.9,309.7L556.4,310.9L556.9,312.3L557.4,313.9L557.9,315.4L558.4,316.9L558.9,318.2L559.4,319.4L559.9,320.4L560.4,321.3L560.9,322.0L561.4,322.7L561.9,323.3L562.4,323.8L562.9,324.2L563.4,324.6L563.9,324.9L564.4,325.2L564.9,325.4L565.4,325.6L565.9,325.8L566.4,326.0L566.9,326.2L567.4,326.3L567.9,326.4L568.4,326.6L568.9,326.7L569.4,326.8L569.9,326.8L570.4,326.9L570.9,327.0L571.4,327.1L571.9,327.1L572.4,327.2L572.9,327.2L573.4,327.3L573.9,327.3L574.4,327.4L574.9,327.4L575.4,327.4L575.9,327.5L576.4,327.5L576.9,327.5L577.4,327.5L577.9,327.6L578.4,327.6L578.9,327.6L579.4,327.6L579.9,327.7L580.4,327.7L580.9,327.7L581.4,327.7L581.9,327.7L582.4,327.7L582.9,327.8L583.4,327.8L583.9,327.8L584.4,327.8L584.9,327.8L585.4,327.8L585.9,327.8L586.4,327.8L586.9,327.8L587.4,327.9L587.9,327.9L588.4,327.9L588.9,327.9L589.4,327.9L589.9,327.9L590.4,327.9L590.9,327.9L591.4,327.9L591.9,327.9L592.4,327.9L592.9,327.9L593.4,327.9L593.9,327.9L594.4,327.9L594.9,328.0L595.4,328.0L595.9,328.0L596.4,328.0L596.9,328.0L597.4,328.0" fill="none" stroke="#2c5c23" stroke-width="1.60" stroke-dasharray="3.7 5.8" stroke-dashoffset="0.0" stroke-linecap="round" stroke-linejoin="round"/>
</g>
<rect x="511.75" y="284.10" width="86.50" height="86.10" fill="none" stroke="#b4b4b4" stroke-width="1"/>
<path d="M511.75,308.75h3.2M511.75,357.85h3.2M513.15,370.20v-2.8M554.95,370.20v-2.8" stroke="#8f8f8f" stroke-width="0.8" fill="none"/>
<text x="507.8" y="312.4" font-family="'Liberation Serif', serif" font-size="10.90" text-anchor="end"  >1</text>
<text x="507.8" y="361.4" font-family="'Liberation Serif', serif" font-size="10.90" text-anchor="end"  >0.8</text>
<text x="513.2" y="382.2" font-family="'Liberation Serif', serif" font-size="10.90" text-anchor="middle"  >0.9999</text>
<text x="555.0" y="382.2" font-family="'Liberation Serif', serif" font-size="10.90" text-anchor="middle"  >1</text>
<rect x="322.50" y="212.45" width="279.20" height="181.10" fill="none" stroke="#a2a2a2" stroke-width="0.8"/>
<path d="M322.50,379.62h3.3M322.50,365.69h3.3M322.50,351.76h3.3M322.50,337.83h3.3M322.50,323.90h3.3M322.50,309.97h3.3M322.50,296.03h3.3M322.50,282.10h3.3M322.50,268.17h3.3M322.50,254.24h3.3M322.50,240.31h3.3M322.50,226.38h3.3M328.57,393.55v-2.0M340.75,393.55v-3.2M352.93,393.55v-2.0M365.11,393.55v-2.0M377.29,393.55v-2.0M389.47,393.55v-2.0M401.65,393.55v-3.2M413.83,393.55v-2.0M426.01,393.55v-2.0M438.19,393.55v-2.0M450.37,393.55v-2.0M462.55,393.55v-3.2M474.73,393.55v-2.0M486.91,393.55v-2.0M499.09,393.55v-2.0M511.27,393.55v-2.0M523.45,393.55v-3.2M535.63,393.55v-2.0M547.81,393.55v-2.0M559.99,393.55v-2.0M572.17,393.55v-2.0M584.35,393.55v-3.2M596.53,393.55v-2.0" stroke="#8f8f8f" stroke-width="0.8" fill="none"/>
<text x="318.2" y="257.8" font-family="'Liberation Serif', serif" font-size="10.90" text-anchor="end"  >1.</text>
<text x="318.2" y="327.5" font-family="'Liberation Serif', serif" font-size="10.90" text-anchor="end"  >0.5</text>
<text x="318.2" y="397.2" font-family="'Liberation Serif', serif" font-size="10.90" text-anchor="end"  >0.</text>
<text x="340.8" y="405.8" font-family="'Liberation Serif', serif" font-size="10.90" text-anchor="middle"  >−2</text>
<text x="401.7" y="405.8" font-family="'Liberation Serif', serif" font-size="10.90" text-anchor="middle"  >−1</text>
<text x="462.6" y="405.8" font-family="'Liberation Serif', serif" font-size="10.90" text-anchor="middle"  >0</text>
<text x="523.5" y="405.8" font-family="'Liberation Serif', serif" font-size="10.90" text-anchor="middle"  >1</text>
<text x="584.4" y="405.8" font-family="'Liberation Serif', serif" font-size="10.90" text-anchor="middle"  >2</text>
<text x="337.1" y="369.7" font-family="'Liberation Serif', serif" font-size="13.70" text-anchor="start"  >(c)</text>
<rect x="393.6" y="27.5" width="120.8" height="138.7" fill="#fff" stroke="#bdbdbd" stroke-width="1.1"/>
<path d="M401.9,44.30H459.2" stroke="#ff7f7f" stroke-width="5.6" fill="none"/>
<path d="M403.3,65.45H457.5" stroke="#8b0000" stroke-width="2" stroke-dasharray="15.3 3.7" stroke-linecap="round" fill="none"/>
<path d="M401.9,86.60H458.4" stroke="#bebeff" stroke-width="3.9" fill="none"/>
<path d="M403.3,107.75H454.0" stroke="#000094" stroke-width="2.1" stroke-dasharray="15.3 3.9 3.7 3.9" stroke-linecap="round" fill="none"/>
<path d="M401.9,128.90H458.4" stroke="#cce7c6" stroke-width="3.9" fill="none"/>
<path d="M403.3,150.05H456.0" stroke="#2c5c23" stroke-width="1.9" stroke-dasharray="3.7 5.87" stroke-linecap="round" fill="none"/>
<path d="M464.5,44.30h2.5M464.5,65.45h2.5M464.5,86.60h2.5M464.5,107.75h2.5M464.5,128.90h2.5M464.5,150.05h2.5" stroke="#b0b0b0" stroke-width="0.9" fill="none"/>
<text x="471.0" y="47.7" font-family="'Liberation Serif', serif" font-size="10.90"><tspan font-style="italic">ν</tspan><tspan font-size="8.00" dy="-4.2">(</tspan><tspan font-size="8.00" font-style="italic">I</tspan><tspan font-size="8.00">)</tspan><tspan dy="4.2">(</tspan><tspan font-style="italic">ω</tspan><tspan>)</tspan></text>
<text x="471.0" y="68.8" font-family="'Liberation Serif', serif" font-size="10.90"><tspan font-style="italic">S</tspan><tspan font-size="8.00" dy="-4.2">(</tspan><tspan font-size="8.00" font-style="italic">I</tspan><tspan font-size="8.00">)</tspan><tspan dy="4.2">(</tspan><tspan font-style="italic">ω</tspan><tspan>)</tspan></text>
<text x="471.0" y="90.0" font-family="'Liberation Serif', serif" font-size="10.90"><tspan font-style="italic">ν</tspan><tspan font-size="8.00" dy="-4.2">(</tspan><tspan font-size="8.00" >II</tspan><tspan font-size="8.00">)</tspan><tspan dy="4.2">(</tspan><tspan font-style="italic">ω</tspan><tspan>)</tspan></text>
<text x="471.0" y="111.2" font-family="'Liberation Serif', serif" font-size="10.90"><tspan font-style="italic">S</tspan><tspan font-size="8.00" dy="-4.2">(</tspan><tspan font-size="8.00" >II</tspan><tspan font-size="8.00">)</tspan><tspan dy="4.2">(</tspan><tspan font-style="italic">ω</tspan><tspan>)</tspan></text>
<text x="471.0" y="132.3" font-family="'Liberation Serif', serif" font-size="10.90"><tspan font-style="italic">ν</tspan><tspan font-size="8.00" dy="-4.2">(</tspan><tspan font-size="8.00" >III</tspan><tspan font-size="8.00">)</tspan><tspan dy="4.2">(</tspan><tspan font-style="italic">ω</tspan><tspan>)</tspan></text>
<text x="471.0" y="153.5" font-family="'Liberation Serif', serif" font-size="10.90"><tspan font-style="italic">S</tspan><tspan font-size="8.00" dy="-4.2">(</tspan><tspan font-size="8.00" >III</tspan><tspan font-size="8.00">)</tspan><tspan dy="4.2">(</tspan><tspan font-style="italic">ω</tspan><tspan>)</tspan></text>
<text x="228.0" y="423.5" font-family="'Liberation Serif', serif" font-style="italic" font-size="13.8">ω</text>
<text x="256.0" y="423.4" font-family="'Liberation Mono', monospace" font-size="14.1" fill="#333" xml:space="preserve">(in units of </text>
<text x="367.3" y="423.5" font-family="'Liberation Serif', serif" font-style="italic" font-size="13.8">ω</text>
<text x="377.0" y="425.6" font-family="'Liberation Mono', monospace" font-size="9.5" fill="#333">m</text>
<text x="382.6" y="423.4" font-family="'Liberation Mono', monospace" font-size="14" fill="#333">)</text>
</svg>
</body></html>
